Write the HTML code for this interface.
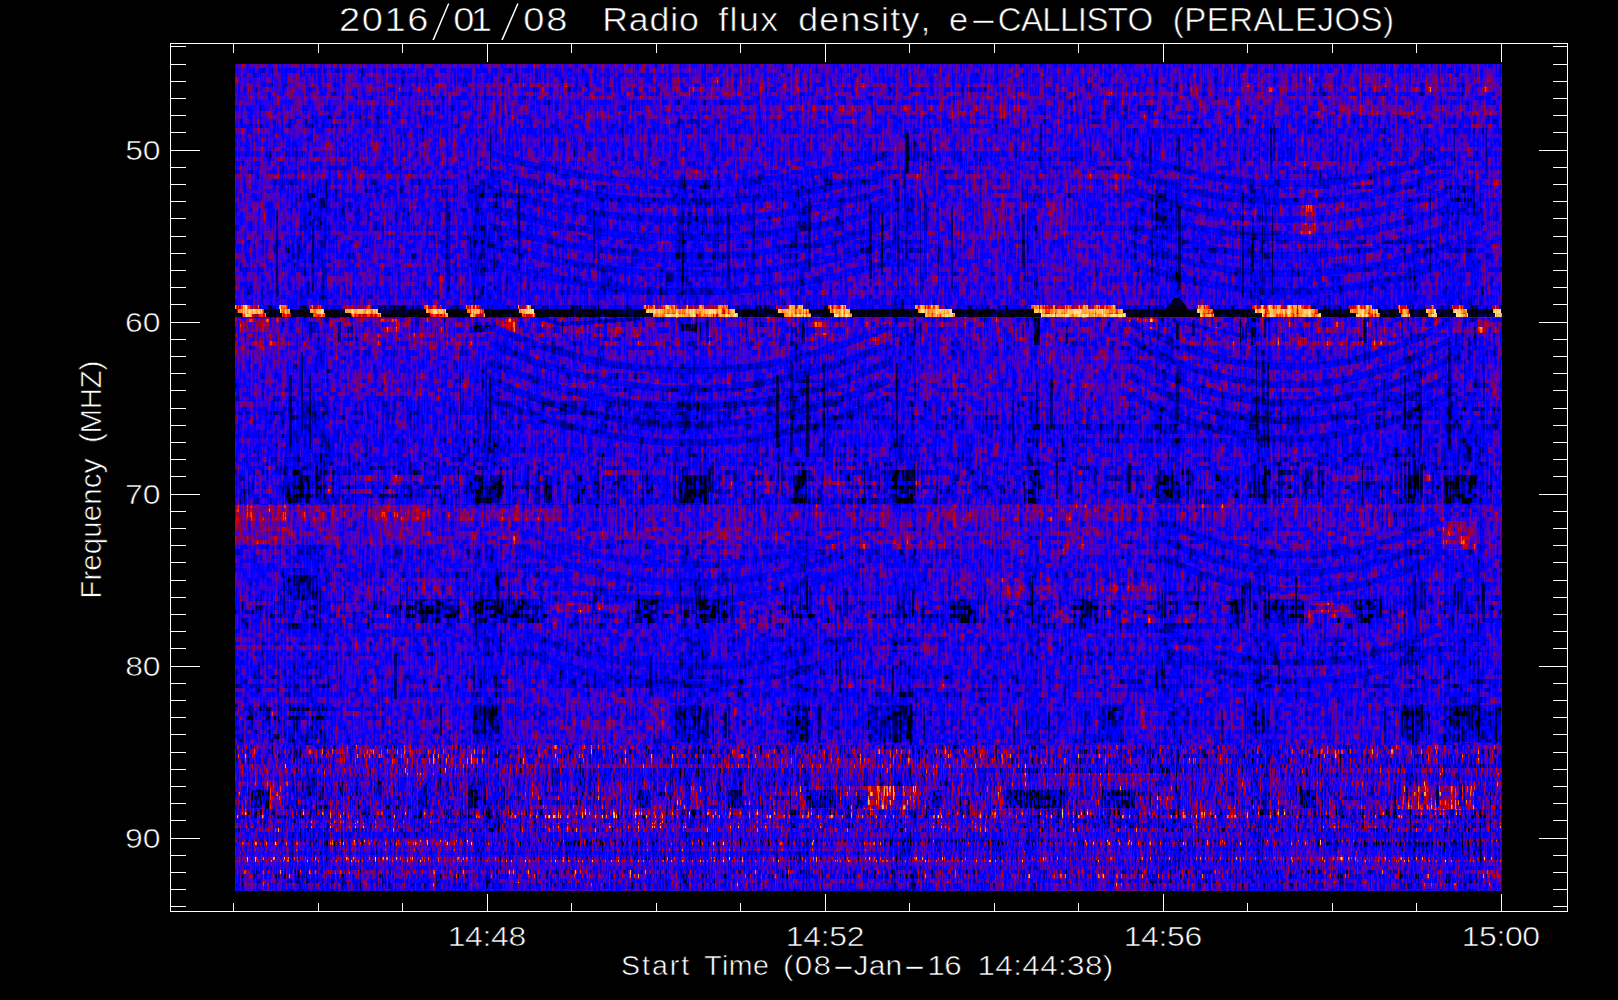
<!DOCTYPE html><html><head><meta charset="utf-8"><style>
html,body{margin:0;padding:0;background:#000;width:1618px;height:1000px;overflow:hidden}
svg{position:absolute;left:0;top:0;display:block}
text{font-family:"Liberation Sans",sans-serif;fill:#fff;font-kerning:none;white-space:pre}
</style></head><body>
<svg width="1618" height="1000" viewBox="0 0 1618 1000" shape-rendering="crispEdges">
<rect x="0" y="0" width="1618" height="1000" fill="#000"/>
<filter id="spf" filterUnits="userSpaceOnUse" primitiveUnits="userSpaceOnUse" x="235" y="64" width="1267" height="681" color-interpolation-filters="sRGB"><feFlood flood-color="rgb(128,128,0)" x="235" y="64" width="4" height="1" result="d0"/><feFlood flood-color="rgb(128,112,0)" x="235" y="65" width="4" height="1" result="d1"/><feFlood flood-color="rgb(128,96,0)" x="235" y="66" width="4" height="1" result="d2"/><feFlood flood-color="rgb(128,80,0)" x="235" y="67" width="4" height="1" result="d3"/><feFlood flood-color="rgb(128,128,0)" x="235" y="68" width="4" height="1" result="d4"/><feFlood flood-color="rgb(128,112,0)" x="235" y="69" width="4" height="1" result="d5"/><feFlood flood-color="rgb(128,96,0)" x="235" y="70" width="4" height="1" result="d6"/><feFlood flood-color="rgb(128,80,0)" x="235" y="71" width="4" height="1" result="d7"/><feFlood flood-color="rgb(128,64,0)" x="235" y="72" width="4" height="1" result="d8"/><feFlood flood-color="rgb(128,128,0)" x="235" y="73" width="4" height="1" result="d9"/><feFlood flood-color="rgb(128,112,0)" x="235" y="74" width="4" height="1" result="d10"/><feFlood flood-color="rgb(128,96,0)" x="235" y="75" width="4" height="1" result="d11"/><feFlood flood-color="rgb(128,80,0)" x="235" y="76" width="4" height="1" result="d12"/><feFlood flood-color="rgb(128,128,0)" x="235" y="77" width="4" height="1" result="d13"/><feFlood flood-color="rgb(128,112,0)" x="235" y="78" width="4" height="1" result="d14"/><feFlood flood-color="rgb(128,96,0)" x="235" y="79" width="4" height="1" result="d15"/><feFlood flood-color="rgb(128,80,0)" x="235" y="80" width="4" height="1" result="d16"/><feFlood flood-color="rgb(128,64,0)" x="235" y="81" width="4" height="1" result="d17"/><feFlood flood-color="rgb(128,48,0)" x="235" y="82" width="4" height="1" result="d18"/><feFlood flood-color="rgb(128,128,0)" x="235" y="83" width="4" height="1" result="d19"/><feFlood flood-color="rgb(128,112,0)" x="235" y="84" width="4" height="1" result="d20"/><feFlood flood-color="rgb(128,96,0)" x="235" y="85" width="4" height="1" result="d21"/><feFlood flood-color="rgb(128,80,0)" x="235" y="86" width="4" height="1" result="d22"/><feFlood flood-color="rgb(128,128,0)" x="235" y="87" width="4" height="1" result="d23"/><feFlood flood-color="rgb(128,112,0)" x="235" y="88" width="4" height="1" result="d24"/><feFlood flood-color="rgb(128,96,0)" x="235" y="89" width="4" height="1" result="d25"/><feFlood flood-color="rgb(128,80,0)" x="235" y="90" width="4" height="1" result="d26"/><feFlood flood-color="rgb(128,64,0)" x="235" y="91" width="4" height="1" result="d27"/><feFlood flood-color="rgb(128,128,0)" x="235" y="92" width="4" height="1" result="d28"/><feFlood flood-color="rgb(128,112,0)" x="235" y="93" width="4" height="1" result="d29"/><feFlood flood-color="rgb(128,96,0)" x="235" y="94" width="4" height="1" result="d30"/><feFlood flood-color="rgb(128,80,0)" x="235" y="95" width="4" height="1" result="d31"/><feFlood flood-color="rgb(128,128,0)" x="235" y="96" width="4" height="1" result="d32"/><feFlood flood-color="rgb(128,112,0)" x="235" y="97" width="4" height="1" result="d33"/><feFlood flood-color="rgb(128,96,0)" x="235" y="98" width="4" height="1" result="d34"/><feFlood flood-color="rgb(128,80,0)" x="235" y="99" width="4" height="1" result="d35"/><feFlood flood-color="rgb(128,128,0)" x="235" y="100" width="4" height="1" result="d36"/><feFlood flood-color="rgb(128,112,0)" x="235" y="101" width="4" height="1" result="d37"/><feFlood flood-color="rgb(128,96,0)" x="235" y="102" width="4" height="1" result="d38"/><feFlood flood-color="rgb(128,80,0)" x="235" y="103" width="4" height="1" result="d39"/><feFlood flood-color="rgb(128,64,0)" x="235" y="104" width="4" height="1" result="d40"/><feFlood flood-color="rgb(128,128,0)" x="235" y="105" width="4" height="1" result="d41"/><feFlood flood-color="rgb(128,112,0)" x="235" y="106" width="4" height="1" result="d42"/><feFlood flood-color="rgb(128,96,0)" x="235" y="107" width="4" height="1" result="d43"/><feFlood flood-color="rgb(128,80,0)" x="235" y="108" width="4" height="1" result="d44"/><feFlood flood-color="rgb(128,64,0)" x="235" y="109" width="4" height="1" result="d45"/><feFlood flood-color="rgb(128,48,0)" x="235" y="110" width="4" height="1" result="d46"/><feFlood flood-color="rgb(128,128,0)" x="235" y="111" width="4" height="1" result="d47"/><feFlood flood-color="rgb(128,112,0)" x="235" y="112" width="4" height="1" result="d48"/><feFlood flood-color="rgb(128,96,0)" x="235" y="113" width="4" height="1" result="d49"/><feFlood flood-color="rgb(128,80,0)" x="235" y="114" width="4" height="1" result="d50"/><feFlood flood-color="rgb(128,128,0)" x="235" y="115" width="4" height="1" result="d51"/><feFlood flood-color="rgb(128,112,0)" x="235" y="116" width="4" height="1" result="d52"/><feFlood flood-color="rgb(128,96,0)" x="235" y="117" width="4" height="1" result="d53"/><feFlood flood-color="rgb(128,80,0)" x="235" y="118" width="4" height="1" result="d54"/><feFlood flood-color="rgb(128,128,0)" x="235" y="119" width="4" height="1" result="d55"/><feFlood flood-color="rgb(128,112,0)" x="235" y="120" width="4" height="1" result="d56"/><feFlood flood-color="rgb(128,96,0)" x="235" y="121" width="4" height="1" result="d57"/><feFlood flood-color="rgb(128,80,0)" x="235" y="122" width="4" height="1" result="d58"/><feFlood flood-color="rgb(128,64,0)" x="235" y="123" width="4" height="1" result="d59"/><feFlood flood-color="rgb(128,128,0)" x="235" y="124" width="4" height="1" result="d60"/><feFlood flood-color="rgb(128,112,0)" x="235" y="125" width="4" height="1" result="d61"/><feFlood flood-color="rgb(128,96,0)" x="235" y="126" width="4" height="1" result="d62"/><feFlood flood-color="rgb(128,80,0)" x="235" y="127" width="4" height="1" result="d63"/><feFlood flood-color="rgb(128,128,0)" x="235" y="128" width="4" height="1" result="d64"/><feFlood flood-color="rgb(128,112,0)" x="235" y="129" width="4" height="1" result="d65"/><feFlood flood-color="rgb(128,96,0)" x="235" y="130" width="4" height="1" result="d66"/><feFlood flood-color="rgb(128,80,0)" x="235" y="131" width="4" height="1" result="d67"/><feFlood flood-color="rgb(128,64,0)" x="235" y="132" width="4" height="1" result="d68"/><feFlood flood-color="rgb(128,48,0)" x="235" y="133" width="4" height="1" result="d69"/><feFlood flood-color="rgb(128,128,0)" x="235" y="134" width="4" height="1" result="d70"/><feFlood flood-color="rgb(128,112,0)" x="235" y="135" width="4" height="1" result="d71"/><feFlood flood-color="rgb(128,96,0)" x="235" y="136" width="4" height="1" result="d72"/><feFlood flood-color="rgb(128,80,0)" x="235" y="137" width="4" height="1" result="d73"/><feMerge x="235" y="64" width="4" height="74" result="tile"><feMergeNode in="d0"/><feMergeNode in="d1"/><feMergeNode in="d2"/><feMergeNode in="d3"/><feMergeNode in="d4"/><feMergeNode in="d5"/><feMergeNode in="d6"/><feMergeNode in="d7"/><feMergeNode in="d8"/><feMergeNode in="d9"/><feMergeNode in="d10"/><feMergeNode in="d11"/><feMergeNode in="d12"/><feMergeNode in="d13"/><feMergeNode in="d14"/><feMergeNode in="d15"/><feMergeNode in="d16"/><feMergeNode in="d17"/><feMergeNode in="d18"/><feMergeNode in="d19"/><feMergeNode in="d20"/><feMergeNode in="d21"/><feMergeNode in="d22"/><feMergeNode in="d23"/><feMergeNode in="d24"/><feMergeNode in="d25"/><feMergeNode in="d26"/><feMergeNode in="d27"/><feMergeNode in="d28"/><feMergeNode in="d29"/><feMergeNode in="d30"/><feMergeNode in="d31"/><feMergeNode in="d32"/><feMergeNode in="d33"/><feMergeNode in="d34"/><feMergeNode in="d35"/><feMergeNode in="d36"/><feMergeNode in="d37"/><feMergeNode in="d38"/><feMergeNode in="d39"/><feMergeNode in="d40"/><feMergeNode in="d41"/><feMergeNode in="d42"/><feMergeNode in="d43"/><feMergeNode in="d44"/><feMergeNode in="d45"/><feMergeNode in="d46"/><feMergeNode in="d47"/><feMergeNode in="d48"/><feMergeNode in="d49"/><feMergeNode in="d50"/><feMergeNode in="d51"/><feMergeNode in="d52"/><feMergeNode in="d53"/><feMergeNode in="d54"/><feMergeNode in="d55"/><feMergeNode in="d56"/><feMergeNode in="d57"/><feMergeNode in="d58"/><feMergeNode in="d59"/><feMergeNode in="d60"/><feMergeNode in="d61"/><feMergeNode in="d62"/><feMergeNode in="d63"/><feMergeNode in="d64"/><feMergeNode in="d65"/><feMergeNode in="d66"/><feMergeNode in="d67"/><feMergeNode in="d68"/><feMergeNode in="d69"/><feMergeNode in="d70"/><feMergeNode in="d71"/><feMergeNode in="d72"/><feMergeNode in="d73"/></feMerge><feTile in="tile" x="235" y="64" width="1267" height="681" result="dmap"/><feTurbulence type="fractalNoise" baseFrequency="0.15 0.23" numOctaves="2" seed="7" result="t1"/><feColorMatrix in="t1" type="matrix" values="1 0 0 0 0 1 0 0 0 0 1 0 0 0 0 0 0 0 0 1" result="t1g"/><feDisplacementMap in="t1g" in2="dmap" scale="16" xChannelSelector="R" yChannelSelector="G" result="nr"/><feTurbulence type="fractalNoise" baseFrequency="0.45 0.03" numOctaves="2" seed="11" result="t2"/><feColorMatrix in="t2" type="matrix" values="1 0 0 0 0 1 0 0 0 0 1 0 0 0 0 0 0 0 0 1" result="ns"/><feTurbulence type="fractalNoise" baseFrequency="0.004 0.3" numOctaves="1" seed="5" result="t3"/><feColorMatrix in="t3" type="matrix" values="1 0 0 0 0 1 0 0 0 0 1 0 0 0 0 0 0 0 0 1" result="t3g"/><feDisplacementMap in="t3g" in2="dmap" scale="16" xChannelSelector="R" yChannelSelector="G" result="nc"/><feComposite in="nr" in2="ns" operator="arithmetic" k1="0" k2="0.7" k3="0.65" k4="-0.1750" result="N1"/><feComposite in="N1" in2="nc" operator="arithmetic" k1="0" k2="1" k3="0.35" k4="-0.1750" result="N"/><feColorMatrix in="SourceGraphic" type="matrix" values="0.5 -0.5 0 0 0.5 0.5 -0.5 0 0 0.5 0.5 -0.5 0 0 0.5 0 0 0 0 1" result="Sw"/><feColorMatrix in="SourceGraphic" type="matrix" values="0 1 0 0 0 0 1 0 0 0 0 1 0 0 0 0 0 0 0 1" result="Av"/><feComposite in="Av" in2="N" operator="arithmetic" k1="1" k2="0" k3="0" k4="0" result="u"/><feComposite in="Sw" in2="u" operator="arithmetic" k1="0" k2="2" k3="2" k4="-1" result="v"/><feComponentTransfer in="v"><feFuncR type="discrete" tableValues="0 0 0 0 0 0 0 0 0 0 0 0 0 0 0 0 0 0 0 0 0 0 0 0 0 0 0 0 0 0 0 0 0 0.176 0.176 0.176 0.176 0.176 0.176 0.176 0.314 0.314 0.314 0.314 0.314 0.314 0.431 0.431 0.431 0.431 0.431 0.431 0.549 0.549 0.549 0.549 0.549 0.686 0.686 0.686 0.686 0.686 0.863 0.863 0.863 0.863 0.863 0.863 1 1 1 1 1 1 1 1 1 1 1 1 1 1 1 1 1 1 1 1 1 1 1 1 1 1 1 1 1 1 1 1"/><feFuncG type="discrete" tableValues="0 0 0 0 0 0 0 0 0 0 0 0 0 0 0 0 0 0 0 0 0 0 0 0 0 0 0 0 0 0 0 0 0 0 0 0 0 0 0 0 0 0 0 0 0 0 0 0 0 0 0 0 0 0 0 0 0 0 0 0 0 0 0 0 0 0 0 0 0.196 0.196 0.196 0.196 0.196 0.196 0.471 0.471 0.471 0.471 0.471 0.471 0.647 0.647 0.647 0.647 0.647 0.647 0.784 0.784 0.784 0.784 0.784 0.784 0.784 0.882 0.882 0.882 0.882 0.882 0.882 0.882"/><feFuncB type="discrete" tableValues="0 0 0 0 0.176 0.176 0.176 0.176 0.392 0.392 0.392 0.392 0.392 0.392 0.667 0.667 0.667 0.667 0.667 0.667 0.667 1 1 1 1 1 1 1 1 1 1 1 1 0.902 0.902 0.902 0.902 0.902 0.902 0.902 0.725 0.725 0.725 0.725 0.725 0.725 0.529 0.529 0.529 0.529 0.529 0.529 0.314 0.314 0.314 0.314 0.314 0.137 0.137 0.137 0.137 0.137 0 0 0 0 0 0 0 0 0 0 0 0 0.078 0.078 0.078 0.078 0.078 0.078 0.216 0.216 0.216 0.216 0.216 0.216 0.392 0.392 0.392 0.392 0.392 0.392 0.392 0.549 0.549 0.549 0.549 0.549 0.549 0.549"/><feFuncA type="linear" slope="0" intercept="1"/></feComponentTransfer></filter><g filter="url(#spf)" shape-rendering="crispEdges"><rect x="235" y="64" width="1267" height="681" fill="#536000"/><rect x="235" y="64" width="1267" height="21" fill="#606000"/><rect x="235" y="85" width="716" height="1" fill="#606000"/><rect x="951" y="85" width="83" height="1" fill="#686000"/><rect x="1034" y="85" width="146" height="1" fill="#606000"/><rect x="1180" y="85" width="104" height="1" fill="#686000"/><rect x="1284" y="85" width="42" height="1" fill="#606000"/><rect x="1326" y="85" width="83" height="1" fill="#686000"/><rect x="1409" y="85" width="93" height="1" fill="#606000"/><rect x="235" y="86" width="716" height="12" fill="#656c00"/><rect x="951" y="86" width="83" height="12" fill="#6d6c00"/><rect x="1034" y="86" width="146" height="12" fill="#656c00"/><rect x="1180" y="86" width="104" height="12" fill="#6d6c00"/><rect x="1284" y="86" width="42" height="12" fill="#656c00"/><rect x="1326" y="86" width="83" height="12" fill="#6d6c00"/><rect x="1409" y="86" width="93" height="12" fill="#656c00"/><rect x="235" y="98" width="716" height="6" fill="#5f6000"/><rect x="951" y="98" width="83" height="6" fill="#676000"/><rect x="1034" y="98" width="146" height="6" fill="#5f6000"/><rect x="1180" y="98" width="104" height="6" fill="#676000"/><rect x="1284" y="98" width="42" height="6" fill="#5f6000"/><rect x="1326" y="98" width="83" height="6" fill="#676000"/><rect x="1409" y="98" width="93" height="6" fill="#5f6000"/><rect x="235" y="104" width="716" height="13" fill="#636000"/><rect x="951" y="104" width="83" height="13" fill="#6b6000"/><rect x="1034" y="104" width="146" height="13" fill="#636000"/><rect x="1180" y="104" width="104" height="13" fill="#6b6000"/><rect x="1284" y="104" width="42" height="13" fill="#636000"/><rect x="1326" y="104" width="83" height="13" fill="#6b6000"/><rect x="1409" y="104" width="93" height="13" fill="#636000"/><rect x="235" y="117" width="716" height="1" fill="#5c6000"/><rect x="951" y="117" width="83" height="1" fill="#646000"/><rect x="1034" y="117" width="146" height="1" fill="#5c6000"/><rect x="1180" y="117" width="104" height="1" fill="#646000"/><rect x="1284" y="117" width="42" height="1" fill="#5c6000"/><rect x="1326" y="117" width="83" height="1" fill="#646000"/><rect x="1409" y="117" width="93" height="1" fill="#5c6000"/><rect x="235" y="118" width="1267" height="20" fill="#5c6000"/><rect x="235" y="138" width="1267" height="19" fill="#5d6000"/><rect x="235" y="157" width="1267" height="13" fill="#5c6000"/><rect x="235" y="170" width="1267" height="7" fill="#646000"/><rect x="235" y="177" width="1267" height="3" fill="#5b6000"/><rect x="235" y="180" width="53" height="2" fill="#5b6000"/><rect x="288" y="180" width="42" height="2" fill="#4c6000"/><rect x="330" y="180" width="143" height="2" fill="#5b6000"/><rect x="473" y="180" width="29" height="2" fill="#4c6000"/><rect x="502" y="180" width="177" height="2" fill="#5b6000"/><rect x="679" y="180" width="28" height="2" fill="#4c6000"/><rect x="707" y="180" width="83" height="2" fill="#5b6000"/><rect x="790" y="180" width="20" height="2" fill="#4c6000"/><rect x="810" y="180" width="82" height="2" fill="#5b6000"/><rect x="892" y="180" width="24" height="2" fill="#4c6000"/><rect x="916" y="180" width="68" height="2" fill="#5b6000"/><rect x="984" y="180" width="21" height="2" fill="#6a6000"/><rect x="1005" y="180" width="23" height="2" fill="#5b6000"/><rect x="1028" y="180" width="12" height="2" fill="#4c6000"/><rect x="1040" y="180" width="3" height="2" fill="#5b6000"/><rect x="1043" y="180" width="25" height="2" fill="#6a6000"/><rect x="1068" y="180" width="88" height="2" fill="#5b6000"/><rect x="1156" y="180" width="24" height="2" fill="#4c6000"/><rect x="1180" y="180" width="70" height="2" fill="#5b6000"/><rect x="1250" y="180" width="20" height="2" fill="#4c6000"/><rect x="1270" y="180" width="30" height="2" fill="#5b6000"/><rect x="1300" y="180" width="17" height="2" fill="#6a6000"/><rect x="1317" y="180" width="87" height="2" fill="#5b6000"/><rect x="1404" y="180" width="16" height="2" fill="#4c6000"/><rect x="1420" y="180" width="24" height="2" fill="#5b6000"/><rect x="1444" y="180" width="40" height="2" fill="#4c6000"/><rect x="1484" y="180" width="18" height="2" fill="#5b6000"/><rect x="288" y="182" width="42" height="3" fill="#4a6000"/><rect x="330" y="182" width="143" height="3" fill="#5a6000"/><rect x="473" y="182" width="29" height="3" fill="#4a6000"/><rect x="502" y="182" width="177" height="3" fill="#5a6000"/><rect x="679" y="182" width="28" height="3" fill="#4a6000"/><rect x="1180" y="182" width="70" height="3" fill="#606000"/><rect x="1250" y="182" width="20" height="3" fill="#516000"/><rect x="1444" y="182" width="40" height="3" fill="#516000"/><rect x="235" y="182" width="53" height="8" fill="#5a6000"/><rect x="288" y="185" width="33" height="5" fill="#4a6000"/><rect x="1068" y="182" width="88" height="8" fill="#606000"/><rect x="1156" y="182" width="24" height="8" fill="#516000"/><rect x="1300" y="182" width="17" height="23" fill="#6f6000"/><rect x="1180" y="185" width="68" height="25" fill="#606000"/><rect x="1248" y="185" width="2" height="25" fill="#4e6000"/><rect x="1250" y="185" width="3" height="25" fill="#3f6000"/><rect x="1253" y="185" width="17" height="25" fill="#516000"/><rect x="1444" y="185" width="6" height="30" fill="#516000"/><rect x="1450" y="185" width="25" height="30" fill="#3c6000"/><rect x="1475" y="185" width="9" height="30" fill="#516000"/><rect x="1180" y="210" width="62" height="16" fill="#606000"/><rect x="1242" y="210" width="6" height="16" fill="#7f6000"/><rect x="1248" y="210" width="2" height="16" fill="#6d6000"/><rect x="1250" y="210" width="3" height="16" fill="#5e6000"/><rect x="1253" y="210" width="5" height="16" fill="#6f6000"/><rect x="1258" y="210" width="12" height="16" fill="#516000"/><rect x="1068" y="190" width="87" height="40" fill="#606000"/><rect x="1155" y="190" width="1" height="40" fill="#4c6000"/><rect x="1156" y="190" width="12" height="40" fill="#3c6000"/><rect x="1168" y="190" width="12" height="40" fill="#516000"/><rect x="1300" y="205" width="1" height="31" fill="#6f6000"/><rect x="1301" y="205" width="15" height="31" fill="#936000"/><rect x="1316" y="205" width="1" height="31" fill="#6f6000"/><rect x="235" y="190" width="53" height="48" fill="#646000"/><rect x="288" y="190" width="12" height="48" fill="#556000"/><rect x="300" y="190" width="21" height="48" fill="#4a6000"/><rect x="321" y="185" width="6" height="53" fill="#396000"/><rect x="327" y="185" width="3" height="53" fill="#4a6000"/><rect x="330" y="185" width="138" height="53" fill="#5a6000"/><rect x="468" y="185" width="5" height="53" fill="#486000"/><rect x="473" y="185" width="12" height="53" fill="#396000"/><rect x="485" y="185" width="17" height="53" fill="#4a6000"/><rect x="502" y="185" width="95" height="53" fill="#5a6000"/><rect x="597" y="185" width="8" height="53" fill="#486000"/><rect x="605" y="185" width="71" height="53" fill="#5a6000"/><rect x="676" y="185" width="3" height="53" fill="#486000"/><rect x="679" y="185" width="5" height="53" fill="#396000"/><rect x="684" y="185" width="23" height="53" fill="#4a6000"/><rect x="707" y="182" width="83" height="56" fill="#5a6000"/><rect x="790" y="182" width="20" height="56" fill="#4a6000"/><rect x="810" y="182" width="58" height="56" fill="#5a6000"/><rect x="868" y="182" width="24" height="56" fill="#606000"/><rect x="892" y="182" width="24" height="56" fill="#516000"/><rect x="916" y="182" width="68" height="56" fill="#606000"/><rect x="984" y="182" width="21" height="56" fill="#6f6000"/><rect x="1005" y="182" width="23" height="56" fill="#606000"/><rect x="1028" y="182" width="12" height="56" fill="#516000"/><rect x="1040" y="182" width="3" height="56" fill="#606000"/><rect x="1043" y="182" width="25" height="56" fill="#6f6000"/><rect x="1068" y="230" width="88" height="8" fill="#606000"/><rect x="1156" y="230" width="24" height="8" fill="#516000"/><rect x="1180" y="226" width="68" height="12" fill="#606000"/><rect x="1248" y="226" width="2" height="12" fill="#4e6000"/><rect x="1250" y="226" width="3" height="12" fill="#3f6000"/><rect x="1253" y="226" width="17" height="12" fill="#516000"/><rect x="1270" y="182" width="30" height="56" fill="#606000"/><rect x="1300" y="236" width="17" height="2" fill="#6f6000"/><rect x="1317" y="182" width="87" height="56" fill="#606000"/><rect x="1404" y="182" width="16" height="56" fill="#516000"/><rect x="1420" y="182" width="24" height="56" fill="#606000"/><rect x="1444" y="215" width="40" height="23" fill="#516000"/><rect x="1484" y="182" width="18" height="56" fill="#606000"/><rect x="235" y="238" width="53" height="2" fill="#676000"/><rect x="288" y="238" width="12" height="2" fill="#576000"/><rect x="300" y="238" width="21" height="2" fill="#4d6000"/><rect x="916" y="238" width="68" height="2" fill="#5c6000"/><rect x="984" y="238" width="21" height="2" fill="#6c6000"/><rect x="1005" y="238" width="23" height="2" fill="#5c6000"/><rect x="1040" y="238" width="3" height="2" fill="#5c6000"/><rect x="1043" y="238" width="25" height="2" fill="#6c6000"/><rect x="1068" y="238" width="88" height="2" fill="#5c6000"/><rect x="1270" y="238" width="30" height="2" fill="#5c6000"/><rect x="1300" y="238" width="17" height="2" fill="#6c6000"/><rect x="1317" y="238" width="87" height="2" fill="#5c6000"/><rect x="235" y="240" width="53" height="10" fill="#5c6000"/><rect x="288" y="240" width="33" height="10" fill="#4d6000"/><rect x="321" y="238" width="6" height="12" fill="#3b6000"/><rect x="327" y="238" width="3" height="12" fill="#4d6000"/><rect x="330" y="238" width="138" height="12" fill="#5c6000"/><rect x="468" y="238" width="5" height="12" fill="#4a6000"/><rect x="473" y="238" width="12" height="12" fill="#3b6000"/><rect x="485" y="238" width="17" height="12" fill="#4d6000"/><rect x="502" y="238" width="95" height="12" fill="#5c6000"/><rect x="597" y="238" width="8" height="12" fill="#4a6000"/><rect x="605" y="238" width="71" height="12" fill="#5c6000"/><rect x="676" y="238" width="3" height="12" fill="#4a6000"/><rect x="679" y="238" width="5" height="12" fill="#3b6000"/><rect x="684" y="238" width="23" height="12" fill="#4d6000"/><rect x="707" y="238" width="83" height="12" fill="#5c6000"/><rect x="790" y="238" width="20" height="12" fill="#4d6000"/><rect x="810" y="238" width="82" height="12" fill="#5c6000"/><rect x="892" y="238" width="24" height="12" fill="#4d6000"/><rect x="916" y="240" width="112" height="10" fill="#5c6000"/><rect x="1028" y="238" width="12" height="12" fill="#4d6000"/><rect x="1040" y="240" width="116" height="10" fill="#5c6000"/><rect x="1156" y="238" width="24" height="12" fill="#4d6000"/><rect x="1180" y="238" width="68" height="12" fill="#5c6000"/><rect x="1248" y="238" width="2" height="12" fill="#4a6000"/><rect x="1250" y="238" width="3" height="12" fill="#3b6000"/><rect x="1253" y="238" width="17" height="12" fill="#4d6000"/><rect x="1270" y="240" width="134" height="10" fill="#5c6000"/><rect x="1404" y="238" width="16" height="12" fill="#4d6000"/><rect x="1420" y="238" width="24" height="12" fill="#5c6000"/><rect x="1444" y="238" width="40" height="12" fill="#4d6000"/><rect x="1484" y="238" width="18" height="12" fill="#5c6000"/><rect x="235" y="250" width="53" height="31" fill="#5f6000"/><rect x="288" y="250" width="33" height="31" fill="#506000"/><rect x="321" y="250" width="6" height="31" fill="#3e6000"/><rect x="327" y="250" width="3" height="31" fill="#506000"/><rect x="330" y="250" width="138" height="31" fill="#5f6000"/><rect x="468" y="250" width="5" height="31" fill="#4d6000"/><rect x="473" y="250" width="12" height="31" fill="#3e6000"/><rect x="485" y="250" width="17" height="31" fill="#506000"/><rect x="502" y="250" width="95" height="31" fill="#5f6000"/><rect x="597" y="250" width="8" height="31" fill="#4d6000"/><rect x="605" y="250" width="71" height="31" fill="#5f6000"/><rect x="676" y="250" width="3" height="31" fill="#4d6000"/><rect x="679" y="250" width="5" height="31" fill="#3e6000"/><rect x="684" y="250" width="23" height="31" fill="#506000"/><rect x="707" y="250" width="83" height="31" fill="#5f6000"/><rect x="790" y="250" width="20" height="31" fill="#506000"/><rect x="810" y="250" width="82" height="31" fill="#5f6000"/><rect x="892" y="250" width="24" height="31" fill="#506000"/><rect x="916" y="250" width="112" height="31" fill="#5f6000"/><rect x="1028" y="250" width="12" height="31" fill="#506000"/><rect x="1040" y="250" width="116" height="31" fill="#5f6000"/><rect x="1156" y="250" width="24" height="31" fill="#506000"/><rect x="1180" y="250" width="68" height="31" fill="#5f6000"/><rect x="1248" y="250" width="2" height="31" fill="#4d6000"/><rect x="1250" y="250" width="3" height="31" fill="#3e6000"/><rect x="1253" y="250" width="17" height="31" fill="#506000"/><rect x="1270" y="250" width="134" height="31" fill="#5f6000"/><rect x="1404" y="250" width="16" height="31" fill="#506000"/><rect x="1420" y="250" width="24" height="31" fill="#5f6000"/><rect x="1444" y="250" width="40" height="31" fill="#506000"/><rect x="1484" y="250" width="18" height="31" fill="#5f6000"/><rect x="235" y="281" width="53" height="19" fill="#5b6000"/><rect x="288" y="281" width="33" height="19" fill="#4c6000"/><rect x="321" y="281" width="6" height="19" fill="#3a6000"/><rect x="327" y="281" width="3" height="19" fill="#4c6000"/><rect x="330" y="281" width="138" height="19" fill="#5b6000"/><rect x="468" y="281" width="5" height="19" fill="#496000"/><rect x="473" y="281" width="12" height="19" fill="#3a6000"/><rect x="485" y="281" width="17" height="19" fill="#4c6000"/><rect x="502" y="281" width="95" height="19" fill="#5b6000"/><rect x="597" y="281" width="8" height="19" fill="#496000"/><rect x="605" y="281" width="71" height="19" fill="#5b6000"/><rect x="676" y="281" width="3" height="19" fill="#496000"/><rect x="679" y="281" width="5" height="19" fill="#3a6000"/><rect x="684" y="281" width="23" height="19" fill="#4c6000"/><rect x="707" y="281" width="83" height="19" fill="#5b6000"/><rect x="790" y="281" width="20" height="19" fill="#4c6000"/><rect x="810" y="281" width="82" height="19" fill="#5b6000"/><rect x="892" y="281" width="24" height="19" fill="#4c6000"/><rect x="916" y="281" width="112" height="19" fill="#5b6000"/><rect x="1028" y="281" width="12" height="19" fill="#4c6000"/><rect x="1040" y="281" width="116" height="19" fill="#5b6000"/><rect x="1156" y="281" width="24" height="19" fill="#4c6000"/><rect x="1180" y="281" width="68" height="19" fill="#5b6000"/><rect x="1248" y="281" width="2" height="19" fill="#496000"/><rect x="1250" y="281" width="3" height="19" fill="#3a6000"/><rect x="1253" y="281" width="17" height="19" fill="#4c6000"/><rect x="1270" y="281" width="134" height="19" fill="#5b6000"/><rect x="1404" y="281" width="16" height="19" fill="#4c6000"/><rect x="1420" y="281" width="24" height="19" fill="#5b6000"/><rect x="1444" y="281" width="40" height="19" fill="#4c6000"/><rect x="1484" y="281" width="18" height="19" fill="#5b6000"/><rect x="235" y="300" width="53" height="5" fill="#5a6000"/><rect x="288" y="300" width="42" height="5" fill="#4a6000"/><rect x="330" y="300" width="143" height="5" fill="#5a6000"/><rect x="473" y="300" width="29" height="5" fill="#4a6000"/><rect x="502" y="300" width="177" height="5" fill="#5a6000"/><rect x="679" y="300" width="28" height="5" fill="#4a6000"/><rect x="707" y="300" width="83" height="5" fill="#5a6000"/><rect x="790" y="300" width="20" height="5" fill="#4a6000"/><rect x="810" y="300" width="82" height="5" fill="#5a6000"/><rect x="892" y="300" width="24" height="5" fill="#4a6000"/><rect x="916" y="300" width="112" height="5" fill="#5a6000"/><rect x="1028" y="300" width="12" height="5" fill="#4a6000"/><rect x="1040" y="300" width="116" height="5" fill="#5a6000"/><rect x="1156" y="300" width="24" height="5" fill="#4a6000"/><rect x="1180" y="300" width="70" height="5" fill="#5a6000"/><rect x="1250" y="300" width="20" height="5" fill="#4a6000"/><rect x="1270" y="300" width="134" height="5" fill="#5a6000"/><rect x="1404" y="300" width="16" height="5" fill="#4a6000"/><rect x="1420" y="300" width="24" height="5" fill="#5a6000"/><rect x="1444" y="300" width="40" height="5" fill="#4a6000"/><rect x="1484" y="300" width="18" height="5" fill="#5a6000"/><rect x="235" y="305" width="24" height="4" fill="#a88000"/><rect x="259" y="305" width="20" height="4" fill="#386600"/><rect x="279" y="305" width="9" height="4" fill="#a88000"/><rect x="288" y="305" width="21" height="4" fill="#386600"/><rect x="309" y="305" width="12" height="4" fill="#a88000"/><rect x="321" y="305" width="21" height="4" fill="#386600"/><rect x="342" y="305" width="30" height="4" fill="#a88000"/><rect x="372" y="305" width="52" height="4" fill="#386600"/><rect x="424" y="305" width="18" height="4" fill="#a88000"/><rect x="442" y="305" width="24" height="4" fill="#386600"/><rect x="466" y="305" width="15" height="4" fill="#a88000"/><rect x="481" y="305" width="37" height="4" fill="#386600"/><rect x="518" y="305" width="13" height="4" fill="#a88000"/><rect x="531" y="305" width="112" height="4" fill="#386600"/><rect x="643" y="305" width="85" height="4" fill="#a88000"/><rect x="728" y="305" width="48" height="4" fill="#386600"/><rect x="776" y="305" width="27" height="4" fill="#a88000"/><rect x="803" y="305" width="25" height="4" fill="#386600"/><rect x="828" y="305" width="18" height="4" fill="#a88000"/><rect x="846" y="305" width="69" height="4" fill="#386600"/><rect x="915" y="305" width="30" height="4" fill="#a88000"/><rect x="945" y="305" width="86" height="4" fill="#386600"/><rect x="1031" y="305" width="85" height="4" fill="#a88000"/><rect x="1116" y="305" width="80" height="4" fill="#386600"/><rect x="1196" y="305" width="14" height="4" fill="#a88000"/><rect x="1210" y="305" width="42" height="4" fill="#386600"/><rect x="1252" y="305" width="59" height="4" fill="#a88000"/><rect x="1311" y="305" width="37" height="4" fill="#386600"/><rect x="1348" y="305" width="24" height="4" fill="#a88000"/><rect x="1372" y="305" width="26" height="4" fill="#386600"/><rect x="1398" y="305" width="9" height="4" fill="#a88000"/><rect x="1407" y="305" width="18" height="4" fill="#386600"/><rect x="1425" y="305" width="9" height="4" fill="#a88000"/><rect x="1434" y="305" width="18" height="4" fill="#386600"/><rect x="1452" y="305" width="12" height="4" fill="#a88000"/><rect x="1464" y="305" width="28" height="4" fill="#386600"/><rect x="1492" y="305" width="7" height="4" fill="#a88000"/><rect x="1499" y="305" width="3" height="4" fill="#386600"/><rect x="235" y="309" width="2" height="4" fill="#082600"/><rect x="237" y="309" width="27" height="4" fill="#d94c00"/><rect x="264" y="309" width="16" height="4" fill="#082600"/><rect x="280" y="309" width="10" height="4" fill="#d94c00"/><rect x="290" y="309" width="20" height="4" fill="#082600"/><rect x="310" y="309" width="14" height="4" fill="#d94c00"/><rect x="324" y="309" width="21" height="4" fill="#082600"/><rect x="345" y="309" width="33" height="4" fill="#d94c00"/><rect x="378" y="309" width="48" height="4" fill="#082600"/><rect x="426" y="309" width="20" height="4" fill="#d94c00"/><rect x="446" y="309" width="21" height="4" fill="#082600"/><rect x="467" y="309" width="17" height="4" fill="#d94c00"/><rect x="484" y="309" width="35" height="4" fill="#082600"/><rect x="519" y="309" width="15" height="4" fill="#d94c00"/><rect x="534" y="309" width="112" height="4" fill="#082600"/><rect x="646" y="309" width="89" height="4" fill="#d94c00"/><rect x="735" y="309" width="43" height="4" fill="#082600"/><rect x="778" y="309" width="31" height="4" fill="#d94c00"/><rect x="809" y="309" width="21" height="4" fill="#082600"/><rect x="830" y="309" width="20" height="4" fill="#d94c00"/><rect x="850" y="309" width="68" height="4" fill="#082600"/><rect x="918" y="309" width="34" height="4" fill="#d94c00"/><rect x="952" y="309" width="82" height="4" fill="#082600"/><rect x="1034" y="309" width="89" height="4" fill="#d94c00"/><rect x="1123" y="309" width="74" height="4" fill="#082600"/><rect x="1197" y="309" width="16" height="4" fill="#d94c00"/><rect x="1213" y="309" width="42" height="4" fill="#082600"/><rect x="1255" y="309" width="63" height="4" fill="#d94c00"/><rect x="1318" y="309" width="32" height="4" fill="#082600"/><rect x="1350" y="309" width="28" height="4" fill="#d94c00"/><rect x="1378" y="309" width="21" height="4" fill="#082600"/><rect x="1399" y="309" width="10" height="4" fill="#d94c00"/><rect x="1409" y="309" width="17" height="4" fill="#082600"/><rect x="1426" y="309" width="10" height="4" fill="#d94c00"/><rect x="1436" y="309" width="17" height="4" fill="#082600"/><rect x="1453" y="309" width="14" height="4" fill="#d94c00"/><rect x="1467" y="309" width="26" height="4" fill="#082600"/><rect x="1493" y="309" width="8" height="4" fill="#d94c00"/><rect x="1501" y="309" width="1" height="4" fill="#082600"/><rect x="235" y="313" width="7" height="4" fill="#082600"/><rect x="242" y="313" width="24" height="4" fill="#cf5900"/><rect x="266" y="313" width="16" height="4" fill="#082600"/><rect x="282" y="313" width="9" height="4" fill="#cf5900"/><rect x="291" y="313" width="22" height="4" fill="#082600"/><rect x="313" y="313" width="12" height="4" fill="#cf5900"/><rect x="325" y="313" width="26" height="4" fill="#082600"/><rect x="351" y="313" width="30" height="4" fill="#cf5900"/><rect x="381" y="313" width="49" height="4" fill="#082600"/><rect x="430" y="313" width="18" height="4" fill="#cf5900"/><rect x="448" y="313" width="22" height="4" fill="#082600"/><rect x="470" y="313" width="15" height="4" fill="#cf5900"/><rect x="485" y="313" width="37" height="4" fill="#082600"/><rect x="522" y="313" width="13" height="4" fill="#cf5900"/><rect x="535" y="313" width="118" height="4" fill="#082600"/><rect x="653" y="313" width="85" height="4" fill="#cf5900"/><rect x="738" y="313" width="46" height="4" fill="#082600"/><rect x="784" y="313" width="27" height="4" fill="#cf5900"/><rect x="811" y="313" width="23" height="4" fill="#082600"/><rect x="834" y="313" width="18" height="4" fill="#cf5900"/><rect x="852" y="313" width="73" height="4" fill="#082600"/><rect x="925" y="313" width="30" height="4" fill="#cf5900"/><rect x="955" y="313" width="86" height="4" fill="#082600"/><rect x="1041" y="313" width="85" height="4" fill="#cf5900"/><rect x="1126" y="313" width="74" height="4" fill="#082600"/><rect x="1200" y="313" width="14" height="4" fill="#cf5900"/><rect x="1214" y="313" width="48" height="4" fill="#082600"/><rect x="1262" y="313" width="59" height="4" fill="#cf5900"/><rect x="1321" y="313" width="35" height="4" fill="#082600"/><rect x="1356" y="313" width="24" height="4" fill="#cf5900"/><rect x="1380" y="313" width="21" height="4" fill="#082600"/><rect x="1401" y="313" width="9" height="4" fill="#cf5900"/><rect x="1410" y="313" width="18" height="4" fill="#082600"/><rect x="1428" y="313" width="9" height="4" fill="#cf5900"/><rect x="1437" y="313" width="19" height="4" fill="#082600"/><rect x="1456" y="313" width="12" height="4" fill="#cf5900"/><rect x="1468" y="313" width="27" height="4" fill="#082600"/><rect x="1495" y="313" width="7" height="4" fill="#cf5900"/><rect x="1028" y="317" width="12" height="1" fill="#5a7300"/><rect x="1250" y="317" width="20" height="1" fill="#5a7300"/><rect x="235" y="317" width="53" height="2" fill="#697300"/><rect x="330" y="317" width="143" height="2" fill="#697300"/><rect x="473" y="317" width="29" height="2" fill="#5a7300"/><rect x="502" y="317" width="177" height="2" fill="#697300"/><rect x="1040" y="317" width="116" height="2" fill="#697300"/><rect x="1156" y="317" width="24" height="2" fill="#5a7300"/><rect x="810" y="317" width="82" height="3" fill="#697300"/><rect x="1444" y="317" width="40" height="3" fill="#5a7300"/><rect x="1484" y="317" width="18" height="3" fill="#697300"/><rect x="679" y="317" width="28" height="7" fill="#5a7300"/><rect x="473" y="319" width="23" height="6" fill="#5a7300"/><rect x="830" y="320" width="62" height="10" fill="#697300"/><rect x="892" y="317" width="24" height="13" fill="#5a7300"/><rect x="1040" y="319" width="102" height="11" fill="#697300"/><rect x="1142" y="319" width="14" height="11" fill="#887300"/><rect x="1156" y="319" width="2" height="11" fill="#787300"/><rect x="1158" y="319" width="22" height="11" fill="#5a7300"/><rect x="679" y="324" width="2" height="7" fill="#5a7300"/><rect x="681" y="324" width="16" height="7" fill="#1a7300"/><rect x="697" y="324" width="10" height="7" fill="#5a7300"/><rect x="235" y="319" width="5" height="13" fill="#697300"/><rect x="240" y="319" width="30" height="13" fill="#887300"/><rect x="270" y="319" width="18" height="13" fill="#697300"/><rect x="330" y="319" width="10" height="13" fill="#887300"/><rect x="340" y="319" width="40" height="13" fill="#697300"/><rect x="380" y="319" width="20" height="13" fill="#887300"/><rect x="400" y="319" width="73" height="13" fill="#697300"/><rect x="473" y="325" width="1" height="7" fill="#5a7300"/><rect x="474" y="325" width="18" height="7" fill="#1a7300"/><rect x="492" y="325" width="4" height="7" fill="#5a7300"/><rect x="496" y="319" width="6" height="13" fill="#787300"/><rect x="502" y="319" width="13" height="13" fill="#887300"/><rect x="515" y="319" width="164" height="13" fill="#697300"/><rect x="1444" y="320" width="31" height="13" fill="#5a7300"/><rect x="1475" y="320" width="9" height="13" fill="#787300"/><rect x="1484" y="320" width="6" height="13" fill="#887300"/><rect x="1490" y="320" width="12" height="13" fill="#697300"/><rect x="810" y="320" width="4" height="15" fill="#697300"/><rect x="814" y="320" width="16" height="15" fill="#887300"/><rect x="830" y="330" width="38" height="5" fill="#697300"/><rect x="235" y="332" width="53" height="13" fill="#697300"/><rect x="288" y="317" width="42" height="28" fill="#5a7300"/><rect x="330" y="332" width="143" height="13" fill="#697300"/><rect x="473" y="332" width="29" height="13" fill="#5a7300"/><rect x="502" y="332" width="177" height="13" fill="#697300"/><rect x="679" y="331" width="28" height="14" fill="#5a7300"/><rect x="707" y="317" width="83" height="28" fill="#697300"/><rect x="790" y="317" width="20" height="28" fill="#5a7300"/><rect x="810" y="335" width="58" height="10" fill="#697300"/><rect x="868" y="330" width="24" height="15" fill="#887300"/><rect x="892" y="330" width="1" height="15" fill="#787300"/><rect x="893" y="330" width="23" height="15" fill="#5a7300"/><rect x="916" y="317" width="112" height="28" fill="#697300"/><rect x="1028" y="318" width="6" height="27" fill="#5a7300"/><rect x="1034" y="318" width="6" height="27" fill="#1a7300"/><rect x="1040" y="330" width="116" height="15" fill="#697300"/><rect x="1156" y="330" width="24" height="15" fill="#5a7300"/><rect x="1180" y="317" width="70" height="28" fill="#697300"/><rect x="1250" y="318" width="1" height="27" fill="#5a7300"/><rect x="1251" y="318" width="5" height="27" fill="#1a7300"/><rect x="1256" y="318" width="14" height="27" fill="#5a7300"/><rect x="1270" y="317" width="134" height="28" fill="#697300"/><rect x="1404" y="317" width="16" height="28" fill="#5a7300"/><rect x="1420" y="317" width="24" height="28" fill="#697300"/><rect x="1444" y="333" width="40" height="12" fill="#5a7300"/><rect x="1484" y="333" width="18" height="12" fill="#697300"/><rect x="235" y="345" width="53" height="55" fill="#616000"/><rect x="288" y="345" width="42" height="55" fill="#526000"/><rect x="330" y="345" width="143" height="55" fill="#616000"/><rect x="473" y="345" width="29" height="55" fill="#526000"/><rect x="502" y="345" width="177" height="55" fill="#616000"/><rect x="679" y="345" width="28" height="55" fill="#526000"/><rect x="707" y="345" width="83" height="55" fill="#616000"/><rect x="790" y="345" width="20" height="55" fill="#526000"/><rect x="810" y="345" width="82" height="55" fill="#616000"/><rect x="892" y="345" width="24" height="55" fill="#526000"/><rect x="916" y="345" width="112" height="55" fill="#616000"/><rect x="1028" y="345" width="12" height="55" fill="#526000"/><rect x="1040" y="345" width="116" height="55" fill="#616000"/><rect x="1156" y="345" width="24" height="55" fill="#526000"/><rect x="1180" y="345" width="70" height="55" fill="#616000"/><rect x="1250" y="345" width="20" height="55" fill="#526000"/><rect x="1270" y="345" width="134" height="55" fill="#616000"/><rect x="1404" y="345" width="16" height="55" fill="#526000"/><rect x="1420" y="345" width="24" height="55" fill="#616000"/><rect x="1444" y="345" width="40" height="55" fill="#526000"/><rect x="1484" y="345" width="18" height="55" fill="#616000"/><rect x="288" y="400" width="42" height="60" fill="#446000"/><rect x="473" y="400" width="29" height="60" fill="#446000"/><rect x="679" y="400" width="28" height="60" fill="#446000"/><rect x="790" y="400" width="20" height="60" fill="#446000"/><rect x="892" y="400" width="24" height="60" fill="#446000"/><rect x="1028" y="400" width="12" height="60" fill="#446000"/><rect x="1156" y="400" width="24" height="60" fill="#446000"/><rect x="1250" y="400" width="20" height="60" fill="#446000"/><rect x="1404" y="400" width="16" height="60" fill="#446000"/><rect x="1444" y="400" width="40" height="60" fill="#446000"/><rect x="235" y="460" width="53" height="10" fill="#576c00"/><rect x="288" y="460" width="42" height="10" fill="#486c00"/><rect x="330" y="460" width="143" height="10" fill="#576c00"/><rect x="473" y="460" width="29" height="10" fill="#486c00"/><rect x="502" y="460" width="177" height="10" fill="#576c00"/><rect x="679" y="460" width="28" height="10" fill="#486c00"/><rect x="707" y="460" width="83" height="10" fill="#576c00"/><rect x="790" y="460" width="20" height="10" fill="#486c00"/><rect x="810" y="460" width="82" height="10" fill="#576c00"/><rect x="892" y="460" width="24" height="10" fill="#486c00"/><rect x="916" y="460" width="112" height="10" fill="#576c00"/><rect x="1028" y="460" width="12" height="10" fill="#486c00"/><rect x="1040" y="460" width="116" height="10" fill="#576c00"/><rect x="1156" y="460" width="24" height="10" fill="#486c00"/><rect x="1180" y="460" width="70" height="10" fill="#576c00"/><rect x="1250" y="460" width="20" height="10" fill="#486c00"/><rect x="1270" y="460" width="134" height="10" fill="#576c00"/><rect x="1404" y="460" width="16" height="10" fill="#486c00"/><rect x="1420" y="460" width="24" height="10" fill="#576c00"/><rect x="1444" y="460" width="40" height="10" fill="#486c00"/><rect x="1484" y="460" width="18" height="10" fill="#576c00"/><rect x="235" y="470" width="53" height="5" fill="#537300"/><rect x="288" y="470" width="42" height="5" fill="#447300"/><rect x="473" y="470" width="29" height="5" fill="#447300"/><rect x="502" y="470" width="177" height="5" fill="#537300"/><rect x="679" y="470" width="28" height="5" fill="#447300"/><rect x="790" y="470" width="20" height="5" fill="#447300"/><rect x="892" y="470" width="24" height="5" fill="#447300"/><rect x="1028" y="470" width="12" height="5" fill="#447300"/><rect x="1156" y="470" width="24" height="5" fill="#447300"/><rect x="1404" y="470" width="16" height="5" fill="#447300"/><rect x="1420" y="470" width="24" height="5" fill="#537300"/><rect x="1444" y="470" width="40" height="5" fill="#447300"/><rect x="892" y="475" width="24" height="5" fill="#1b7300"/><rect x="916" y="470" width="112" height="10" fill="#537300"/><rect x="892" y="480" width="21" height="20" fill="#1b7300"/><rect x="913" y="480" width="3" height="20" fill="#357300"/><rect x="916" y="480" width="5" height="20" fill="#6d7300"/><rect x="921" y="480" width="107" height="20" fill="#537300"/><rect x="235" y="475" width="52" height="28" fill="#537300"/><rect x="287" y="475" width="1" height="28" fill="#2b7300"/><rect x="288" y="475" width="21" height="28" fill="#1b7300"/><rect x="309" y="475" width="21" height="28" fill="#447300"/><rect x="473" y="475" width="2" height="28" fill="#447300"/><rect x="475" y="475" width="26" height="28" fill="#1b7300"/><rect x="501" y="475" width="1" height="28" fill="#447300"/><rect x="502" y="475" width="42" height="28" fill="#537300"/><rect x="544" y="475" width="8" height="28" fill="#2b7300"/><rect x="552" y="475" width="23" height="28" fill="#537300"/><rect x="575" y="475" width="8" height="28" fill="#2b7300"/><rect x="583" y="475" width="96" height="28" fill="#537300"/><rect x="679" y="475" width="28" height="28" fill="#1b7300"/><rect x="790" y="475" width="3" height="28" fill="#447300"/><rect x="793" y="475" width="14" height="28" fill="#1b7300"/><rect x="807" y="475" width="3" height="28" fill="#447300"/><rect x="892" y="500" width="24" height="3" fill="#1b7300"/><rect x="1028" y="475" width="8" height="28" fill="#1b7300"/><rect x="1036" y="475" width="4" height="28" fill="#447300"/><rect x="1156" y="475" width="24" height="28" fill="#1b7300"/><rect x="1404" y="475" width="2" height="28" fill="#447300"/><rect x="1406" y="475" width="13" height="28" fill="#1b7300"/><rect x="1419" y="475" width="1" height="28" fill="#447300"/><rect x="1420" y="475" width="23" height="28" fill="#537300"/><rect x="1443" y="475" width="1" height="28" fill="#2b7300"/><rect x="1444" y="475" width="32" height="28" fill="#1b7300"/><rect x="1476" y="475" width="8" height="28" fill="#447300"/><rect x="235" y="503" width="53" height="2" fill="#537300"/><rect x="288" y="503" width="42" height="2" fill="#447300"/><rect x="330" y="470" width="143" height="35" fill="#537300"/><rect x="473" y="503" width="29" height="2" fill="#447300"/><rect x="502" y="503" width="177" height="2" fill="#537300"/><rect x="679" y="503" width="28" height="2" fill="#447300"/><rect x="707" y="470" width="83" height="35" fill="#537300"/><rect x="790" y="503" width="20" height="2" fill="#447300"/><rect x="810" y="470" width="82" height="35" fill="#537300"/><rect x="892" y="503" width="24" height="2" fill="#447300"/><rect x="916" y="500" width="112" height="5" fill="#537300"/><rect x="1028" y="503" width="12" height="2" fill="#447300"/><rect x="1040" y="470" width="116" height="35" fill="#537300"/><rect x="1156" y="503" width="24" height="2" fill="#447300"/><rect x="1180" y="470" width="70" height="35" fill="#537300"/><rect x="1250" y="470" width="20" height="35" fill="#447300"/><rect x="1270" y="470" width="134" height="35" fill="#537300"/><rect x="1404" y="503" width="16" height="2" fill="#447300"/><rect x="1420" y="503" width="24" height="2" fill="#537300"/><rect x="1444" y="503" width="40" height="2" fill="#447300"/><rect x="1484" y="470" width="18" height="35" fill="#537300"/><rect x="235" y="505" width="53" height="4" fill="#816600"/><rect x="288" y="505" width="42" height="4" fill="#726600"/><rect x="330" y="505" width="8" height="4" fill="#816600"/><rect x="338" y="505" width="32" height="4" fill="#686600"/><rect x="370" y="505" width="62" height="4" fill="#776600"/><rect x="432" y="505" width="37" height="4" fill="#686600"/><rect x="469" y="505" width="4" height="4" fill="#776600"/><rect x="473" y="505" width="29" height="4" fill="#686600"/><rect x="502" y="505" width="21" height="4" fill="#776600"/><rect x="523" y="505" width="156" height="4" fill="#686600"/><rect x="916" y="505" width="112" height="4" fill="#686600"/><rect x="1028" y="505" width="12" height="4" fill="#586600"/><rect x="1040" y="505" width="116" height="4" fill="#686600"/><rect x="1250" y="505" width="20" height="4" fill="#586600"/><rect x="1270" y="505" width="134" height="4" fill="#686600"/><rect x="235" y="509" width="53" height="8" fill="#8e6600"/><rect x="288" y="509" width="42" height="8" fill="#7f6600"/><rect x="330" y="509" width="8" height="8" fill="#8e6600"/><rect x="338" y="509" width="32" height="8" fill="#756600"/><rect x="370" y="509" width="62" height="8" fill="#846600"/><rect x="432" y="509" width="37" height="8" fill="#756600"/><rect x="469" y="509" width="4" height="8" fill="#846600"/><rect x="473" y="509" width="29" height="8" fill="#756600"/><rect x="502" y="509" width="21" height="8" fill="#846600"/><rect x="523" y="509" width="37" height="8" fill="#756600"/><rect x="560" y="509" width="119" height="8" fill="#686600"/><rect x="916" y="509" width="12" height="8" fill="#686600"/><rect x="928" y="509" width="100" height="8" fill="#756600"/><rect x="1028" y="509" width="12" height="8" fill="#656600"/><rect x="1040" y="509" width="58" height="8" fill="#756600"/><rect x="1098" y="509" width="58" height="8" fill="#686600"/><rect x="1250" y="509" width="13" height="8" fill="#586600"/><rect x="1263" y="509" width="7" height="8" fill="#656600"/><rect x="1270" y="509" width="91" height="8" fill="#756600"/><rect x="1361" y="509" width="43" height="8" fill="#686600"/><rect x="235" y="517" width="53" height="3" fill="#816600"/><rect x="288" y="517" width="42" height="3" fill="#726600"/><rect x="330" y="517" width="8" height="3" fill="#816600"/><rect x="338" y="517" width="32" height="3" fill="#686600"/><rect x="370" y="517" width="62" height="3" fill="#776600"/><rect x="432" y="517" width="37" height="3" fill="#686600"/><rect x="469" y="517" width="4" height="3" fill="#776600"/><rect x="473" y="517" width="29" height="3" fill="#686600"/><rect x="502" y="517" width="21" height="3" fill="#776600"/><rect x="523" y="517" width="156" height="3" fill="#686600"/><rect x="679" y="505" width="28" height="15" fill="#656600"/><rect x="707" y="505" width="42" height="15" fill="#756600"/><rect x="749" y="505" width="41" height="15" fill="#686600"/><rect x="790" y="505" width="20" height="15" fill="#586600"/><rect x="810" y="505" width="82" height="15" fill="#686600"/><rect x="892" y="505" width="24" height="15" fill="#586600"/><rect x="916" y="517" width="112" height="3" fill="#686600"/><rect x="1028" y="517" width="12" height="3" fill="#586600"/><rect x="1040" y="517" width="116" height="3" fill="#686600"/><rect x="1156" y="505" width="24" height="15" fill="#586600"/><rect x="1180" y="505" width="70" height="15" fill="#686600"/><rect x="1250" y="517" width="20" height="3" fill="#586600"/><rect x="1270" y="517" width="134" height="3" fill="#686600"/><rect x="1404" y="505" width="16" height="15" fill="#586600"/><rect x="1420" y="505" width="24" height="15" fill="#686600"/><rect x="1444" y="505" width="40" height="15" fill="#586600"/><rect x="1484" y="505" width="18" height="15" fill="#686600"/><rect x="892" y="520" width="24" height="1" fill="#556000"/><rect x="1040" y="520" width="116" height="1" fill="#646000"/><rect x="1420" y="520" width="24" height="1" fill="#646000"/><rect x="1444" y="520" width="40" height="1" fill="#556000"/><rect x="235" y="520" width="53" height="25" fill="#7d6000"/><rect x="288" y="520" width="42" height="25" fill="#6e6000"/><rect x="330" y="520" width="8" height="25" fill="#7d6000"/><rect x="338" y="520" width="32" height="25" fill="#646000"/><rect x="370" y="520" width="62" height="25" fill="#736000"/><rect x="432" y="520" width="37" height="25" fill="#646000"/><rect x="469" y="520" width="4" height="25" fill="#736000"/><rect x="473" y="520" width="29" height="25" fill="#646000"/><rect x="502" y="520" width="21" height="25" fill="#736000"/><rect x="523" y="520" width="156" height="25" fill="#646000"/><rect x="679" y="520" width="28" height="25" fill="#616000"/><rect x="707" y="520" width="42" height="25" fill="#716000"/><rect x="749" y="520" width="41" height="25" fill="#646000"/><rect x="790" y="520" width="20" height="25" fill="#556000"/><rect x="810" y="520" width="82" height="25" fill="#646000"/><rect x="892" y="521" width="1" height="24" fill="#556000"/><rect x="893" y="521" width="20" height="24" fill="#736000"/><rect x="913" y="521" width="3" height="24" fill="#556000"/><rect x="916" y="520" width="112" height="25" fill="#646000"/><rect x="1028" y="520" width="12" height="25" fill="#556000"/><rect x="1040" y="521" width="21" height="24" fill="#646000"/><rect x="1061" y="521" width="37" height="24" fill="#736000"/><rect x="1098" y="521" width="58" height="24" fill="#646000"/><rect x="1156" y="520" width="24" height="25" fill="#556000"/><rect x="1180" y="520" width="70" height="25" fill="#646000"/><rect x="1250" y="520" width="20" height="25" fill="#556000"/><rect x="1270" y="520" width="134" height="25" fill="#646000"/><rect x="1404" y="520" width="16" height="25" fill="#556000"/><rect x="1420" y="521" width="23" height="24" fill="#646000"/><rect x="1443" y="521" width="1" height="24" fill="#926000"/><rect x="1444" y="521" width="32" height="24" fill="#836000"/><rect x="1476" y="521" width="8" height="24" fill="#556000"/><rect x="1484" y="520" width="18" height="25" fill="#646000"/><rect x="892" y="545" width="1" height="5" fill="#4c6000"/><rect x="893" y="545" width="20" height="5" fill="#6a6000"/><rect x="913" y="545" width="3" height="5" fill="#4c6000"/><rect x="1040" y="545" width="21" height="5" fill="#5b6000"/><rect x="1061" y="545" width="37" height="5" fill="#6a6000"/><rect x="1098" y="545" width="58" height="5" fill="#5b6000"/><rect x="1420" y="545" width="23" height="5" fill="#5b6000"/><rect x="1443" y="545" width="1" height="5" fill="#896000"/><rect x="1444" y="545" width="32" height="5" fill="#7a6000"/><rect x="1476" y="545" width="8" height="5" fill="#4c6000"/><rect x="288" y="545" width="42" height="30" fill="#4c6000"/><rect x="916" y="545" width="112" height="40" fill="#5b6000"/><rect x="1028" y="545" width="12" height="40" fill="#4c6000"/><rect x="1040" y="550" width="116" height="35" fill="#5b6000"/><rect x="1250" y="545" width="20" height="40" fill="#4c6000"/><rect x="1270" y="545" width="134" height="40" fill="#5b6000"/><rect x="330" y="545" width="143" height="54" fill="#5b6000"/><rect x="473" y="545" width="29" height="54" fill="#4c6000"/><rect x="502" y="545" width="177" height="54" fill="#5b6000"/><rect x="679" y="545" width="28" height="54" fill="#4c6000"/><rect x="707" y="545" width="83" height="54" fill="#5b6000"/><rect x="916" y="585" width="88" height="14" fill="#5b6000"/><rect x="1061" y="585" width="41" height="14" fill="#5b6000"/><rect x="1180" y="545" width="70" height="54" fill="#5b6000"/><rect x="1263" y="585" width="7" height="14" fill="#656000"/><rect x="1270" y="585" width="50" height="14" fill="#756000"/><rect x="1320" y="585" width="84" height="14" fill="#5b6000"/><rect x="235" y="545" width="53" height="55" fill="#5b6000"/><rect x="288" y="575" width="29" height="25" fill="#256000"/><rect x="317" y="575" width="13" height="25" fill="#4c6000"/><rect x="330" y="599" width="77" height="1" fill="#5b6000"/><rect x="407" y="599" width="52" height="1" fill="#326000"/><rect x="459" y="599" width="14" height="1" fill="#5b6000"/><rect x="473" y="599" width="2" height="1" fill="#4c6000"/><rect x="475" y="599" width="27" height="1" fill="#236000"/><rect x="502" y="599" width="37" height="1" fill="#326000"/><rect x="539" y="599" width="96" height="1" fill="#5b6000"/><rect x="635" y="599" width="24" height="1" fill="#326000"/><rect x="659" y="599" width="20" height="1" fill="#5b6000"/><rect x="679" y="599" width="20" height="1" fill="#4c6000"/><rect x="699" y="599" width="8" height="1" fill="#236000"/><rect x="707" y="599" width="20" height="1" fill="#326000"/><rect x="727" y="599" width="63" height="1" fill="#5b6000"/><rect x="790" y="545" width="20" height="55" fill="#4c6000"/><rect x="810" y="545" width="82" height="55" fill="#5b6000"/><rect x="892" y="550" width="24" height="50" fill="#4c6000"/><rect x="916" y="599" width="34" height="1" fill="#5b6000"/><rect x="950" y="599" width="25" height="1" fill="#326000"/><rect x="975" y="599" width="29" height="1" fill="#5b6000"/><rect x="1004" y="585" width="24" height="15" fill="#756000"/><rect x="1028" y="585" width="12" height="15" fill="#656000"/><rect x="1040" y="585" width="21" height="15" fill="#756000"/><rect x="1061" y="599" width="12" height="1" fill="#5b6000"/><rect x="1073" y="599" width="25" height="1" fill="#326000"/><rect x="1098" y="599" width="4" height="1" fill="#5b6000"/><rect x="1102" y="585" width="54" height="15" fill="#756000"/><rect x="1156" y="545" width="24" height="55" fill="#4c6000"/><rect x="1180" y="599" width="50" height="1" fill="#5b6000"/><rect x="1230" y="599" width="16" height="1" fill="#326000"/><rect x="1246" y="599" width="4" height="1" fill="#5b6000"/><rect x="1250" y="585" width="13" height="15" fill="#4c6000"/><rect x="1263" y="599" width="7" height="1" fill="#3c6000"/><rect x="1270" y="599" width="34" height="1" fill="#4c6000"/><rect x="1304" y="599" width="16" height="1" fill="#756000"/><rect x="1320" y="599" width="33" height="1" fill="#5b6000"/><rect x="1353" y="599" width="29" height="1" fill="#326000"/><rect x="1382" y="599" width="22" height="1" fill="#5b6000"/><rect x="1404" y="545" width="16" height="55" fill="#4c6000"/><rect x="1420" y="550" width="24" height="50" fill="#5b6000"/><rect x="1444" y="550" width="40" height="50" fill="#4c6000"/><rect x="1484" y="545" width="18" height="55" fill="#5b6000"/><rect x="330" y="600" width="77" height="3" fill="#577900"/><rect x="539" y="600" width="96" height="3" fill="#577900"/><rect x="1304" y="600" width="49" height="3" fill="#577900"/><rect x="330" y="603" width="1" height="9" fill="#577900"/><rect x="331" y="603" width="36" height="9" fill="#767900"/><rect x="367" y="603" width="40" height="9" fill="#577900"/><rect x="539" y="603" width="17" height="9" fill="#577900"/><rect x="556" y="603" width="74" height="9" fill="#767900"/><rect x="630" y="603" width="5" height="9" fill="#577900"/><rect x="1304" y="603" width="12" height="9" fill="#577900"/><rect x="1316" y="603" width="33" height="9" fill="#767900"/><rect x="1349" y="603" width="4" height="9" fill="#577900"/><rect x="330" y="612" width="77" height="11" fill="#577900"/><rect x="407" y="600" width="52" height="23" fill="#2e7900"/><rect x="459" y="600" width="14" height="23" fill="#577900"/><rect x="473" y="600" width="2" height="23" fill="#487900"/><rect x="475" y="600" width="27" height="23" fill="#1f7900"/><rect x="502" y="600" width="37" height="23" fill="#2e7900"/><rect x="539" y="612" width="96" height="11" fill="#577900"/><rect x="635" y="600" width="24" height="23" fill="#2e7900"/><rect x="659" y="600" width="20" height="23" fill="#577900"/><rect x="679" y="600" width="20" height="23" fill="#487900"/><rect x="699" y="600" width="8" height="23" fill="#1f7900"/><rect x="707" y="600" width="20" height="23" fill="#2e7900"/><rect x="727" y="600" width="63" height="23" fill="#577900"/><rect x="916" y="600" width="34" height="23" fill="#577900"/><rect x="950" y="600" width="25" height="23" fill="#2e7900"/><rect x="975" y="600" width="53" height="23" fill="#577900"/><rect x="1040" y="600" width="33" height="23" fill="#577900"/><rect x="1073" y="600" width="25" height="23" fill="#2e7900"/><rect x="1098" y="600" width="58" height="23" fill="#577900"/><rect x="1180" y="600" width="50" height="23" fill="#577900"/><rect x="1230" y="600" width="16" height="23" fill="#2e7900"/><rect x="1246" y="600" width="4" height="23" fill="#577900"/><rect x="1250" y="600" width="13" height="23" fill="#487900"/><rect x="1263" y="600" width="7" height="23" fill="#1f7900"/><rect x="1270" y="600" width="34" height="23" fill="#2e7900"/><rect x="1304" y="612" width="49" height="11" fill="#577900"/><rect x="1353" y="600" width="29" height="23" fill="#2e7900"/><rect x="1382" y="600" width="22" height="23" fill="#577900"/><rect x="235" y="600" width="53" height="25" fill="#577900"/><rect x="288" y="600" width="42" height="25" fill="#487900"/><rect x="330" y="623" width="143" height="2" fill="#577900"/><rect x="473" y="623" width="29" height="2" fill="#487900"/><rect x="502" y="623" width="177" height="2" fill="#577900"/><rect x="679" y="623" width="28" height="2" fill="#487900"/><rect x="707" y="623" width="83" height="2" fill="#577900"/><rect x="790" y="600" width="20" height="25" fill="#487900"/><rect x="810" y="600" width="82" height="25" fill="#577900"/><rect x="892" y="600" width="24" height="25" fill="#487900"/><rect x="916" y="623" width="112" height="2" fill="#577900"/><rect x="1028" y="600" width="12" height="25" fill="#487900"/><rect x="1040" y="623" width="116" height="2" fill="#577900"/><rect x="1156" y="600" width="24" height="25" fill="#487900"/><rect x="1180" y="623" width="70" height="2" fill="#577900"/><rect x="1250" y="623" width="20" height="2" fill="#487900"/><rect x="1270" y="623" width="134" height="2" fill="#577900"/><rect x="1404" y="600" width="16" height="25" fill="#487900"/><rect x="1420" y="600" width="24" height="25" fill="#577900"/><rect x="1444" y="600" width="40" height="25" fill="#487900"/><rect x="1484" y="600" width="18" height="25" fill="#577900"/><rect x="235" y="625" width="53" height="15" fill="#5a6000"/><rect x="288" y="625" width="42" height="15" fill="#4a6000"/><rect x="330" y="625" width="143" height="15" fill="#5a6000"/><rect x="473" y="625" width="29" height="15" fill="#4a6000"/><rect x="502" y="625" width="177" height="15" fill="#5a6000"/><rect x="679" y="625" width="28" height="15" fill="#4a6000"/><rect x="707" y="625" width="83" height="15" fill="#5a6000"/><rect x="790" y="625" width="20" height="15" fill="#4a6000"/><rect x="810" y="625" width="82" height="15" fill="#5a6000"/><rect x="892" y="625" width="24" height="15" fill="#4a6000"/><rect x="916" y="625" width="112" height="15" fill="#5a6000"/><rect x="1028" y="625" width="12" height="15" fill="#4a6000"/><rect x="1040" y="625" width="116" height="15" fill="#5a6000"/><rect x="1156" y="625" width="24" height="15" fill="#4a6000"/><rect x="1180" y="625" width="70" height="15" fill="#5a6000"/><rect x="1250" y="625" width="20" height="15" fill="#4a6000"/><rect x="1270" y="625" width="134" height="15" fill="#5a6000"/><rect x="1404" y="625" width="16" height="15" fill="#4a6000"/><rect x="1420" y="625" width="24" height="15" fill="#5a6000"/><rect x="1444" y="625" width="40" height="15" fill="#4a6000"/><rect x="1484" y="625" width="18" height="15" fill="#5a6000"/><rect x="235" y="640" width="53" height="5" fill="#556000"/><rect x="288" y="640" width="42" height="5" fill="#456000"/><rect x="330" y="640" width="143" height="5" fill="#556000"/><rect x="473" y="640" width="29" height="5" fill="#456000"/><rect x="502" y="640" width="177" height="5" fill="#556000"/><rect x="679" y="640" width="28" height="5" fill="#456000"/><rect x="707" y="640" width="83" height="5" fill="#556000"/><rect x="790" y="640" width="20" height="5" fill="#456000"/><rect x="810" y="640" width="82" height="5" fill="#556000"/><rect x="892" y="640" width="24" height="5" fill="#456000"/><rect x="916" y="640" width="112" height="5" fill="#556000"/><rect x="1028" y="640" width="12" height="5" fill="#456000"/><rect x="1040" y="640" width="116" height="5" fill="#556000"/><rect x="1156" y="640" width="24" height="5" fill="#456000"/><rect x="1180" y="640" width="70" height="5" fill="#556000"/><rect x="1250" y="640" width="20" height="5" fill="#456000"/><rect x="1270" y="640" width="134" height="5" fill="#556000"/><rect x="1404" y="640" width="16" height="5" fill="#456000"/><rect x="1420" y="640" width="24" height="5" fill="#556000"/><rect x="1444" y="640" width="40" height="5" fill="#456000"/><rect x="1484" y="640" width="18" height="5" fill="#556000"/><rect x="235" y="645" width="53" height="5" fill="#716000"/><rect x="288" y="645" width="42" height="5" fill="#616000"/><rect x="330" y="645" width="143" height="5" fill="#5c6000"/><rect x="473" y="645" width="29" height="5" fill="#4d6000"/><rect x="502" y="645" width="177" height="5" fill="#5c6000"/><rect x="679" y="645" width="28" height="5" fill="#4d6000"/><rect x="707" y="645" width="83" height="5" fill="#5c6000"/><rect x="790" y="645" width="20" height="5" fill="#4d6000"/><rect x="810" y="645" width="70" height="5" fill="#5c6000"/><rect x="880" y="645" width="12" height="5" fill="#716000"/><rect x="892" y="645" width="21" height="5" fill="#616000"/><rect x="913" y="645" width="3" height="5" fill="#4d6000"/><rect x="916" y="645" width="112" height="5" fill="#5c6000"/><rect x="1028" y="645" width="12" height="5" fill="#4d6000"/><rect x="1040" y="645" width="116" height="5" fill="#5c6000"/><rect x="1156" y="645" width="24" height="5" fill="#616000"/><rect x="1180" y="645" width="41" height="5" fill="#716000"/><rect x="1221" y="645" width="29" height="5" fill="#5c6000"/><rect x="1250" y="645" width="20" height="5" fill="#4d6000"/><rect x="1270" y="645" width="134" height="5" fill="#5c6000"/><rect x="1404" y="645" width="16" height="5" fill="#4d6000"/><rect x="1420" y="645" width="24" height="5" fill="#5c6000"/><rect x="1444" y="645" width="40" height="5" fill="#4d6000"/><rect x="1484" y="645" width="18" height="5" fill="#5c6000"/><rect x="288" y="650" width="42" height="50" fill="#446000"/><rect x="473" y="650" width="29" height="50" fill="#446000"/><rect x="679" y="650" width="28" height="50" fill="#446000"/><rect x="790" y="650" width="20" height="50" fill="#446000"/><rect x="892" y="650" width="24" height="50" fill="#446000"/><rect x="1028" y="650" width="12" height="50" fill="#446000"/><rect x="1156" y="650" width="24" height="50" fill="#446000"/><rect x="1250" y="650" width="20" height="50" fill="#446000"/><rect x="1404" y="650" width="16" height="50" fill="#446000"/><rect x="1444" y="650" width="40" height="50" fill="#446000"/><rect x="235" y="700" width="53" height="5" fill="#5a6000"/><rect x="288" y="700" width="42" height="5" fill="#4a6000"/><rect x="473" y="700" width="29" height="5" fill="#4a6000"/><rect x="502" y="700" width="177" height="5" fill="#5a6000"/><rect x="679" y="700" width="28" height="5" fill="#4a6000"/><rect x="707" y="700" width="83" height="5" fill="#5a6000"/><rect x="790" y="700" width="20" height="5" fill="#4a6000"/><rect x="810" y="700" width="82" height="5" fill="#5a6000"/><rect x="892" y="700" width="24" height="5" fill="#4a6000"/><rect x="1040" y="700" width="116" height="5" fill="#5a6000"/><rect x="1156" y="700" width="24" height="5" fill="#4a6000"/><rect x="1270" y="700" width="134" height="5" fill="#5a6000"/><rect x="1404" y="700" width="16" height="5" fill="#4a6000"/><rect x="1420" y="700" width="24" height="5" fill="#5a6000"/><rect x="1444" y="700" width="40" height="5" fill="#4a6000"/><rect x="1484" y="700" width="18" height="5" fill="#5a6000"/><rect x="235" y="705" width="53" height="37" fill="#4d8c00"/><rect x="288" y="705" width="35" height="37" fill="#3e8c00"/><rect x="323" y="705" width="7" height="37" fill="#4a6000"/><rect x="473" y="705" width="29" height="37" fill="#2c6000"/><rect x="502" y="705" width="169" height="37" fill="#5a6000"/><rect x="671" y="705" width="8" height="37" fill="#3b6000"/><rect x="679" y="705" width="25" height="37" fill="#2c6000"/><rect x="704" y="705" width="3" height="37" fill="#4a6000"/><rect x="707" y="705" width="79" height="37" fill="#5a6000"/><rect x="786" y="705" width="4" height="37" fill="#3b6000"/><rect x="790" y="705" width="20" height="37" fill="#2c6000"/><rect x="810" y="705" width="58" height="37" fill="#5a6000"/><rect x="868" y="705" width="24" height="37" fill="#3b6000"/><rect x="892" y="705" width="21" height="37" fill="#2c6000"/><rect x="913" y="705" width="3" height="37" fill="#4a6000"/><rect x="1040" y="705" width="58" height="37" fill="#5a6000"/><rect x="1098" y="705" width="25" height="37" fill="#3b6000"/><rect x="1123" y="705" width="12" height="37" fill="#5a6000"/><rect x="1135" y="705" width="21" height="37" fill="#676000"/><rect x="1156" y="705" width="8" height="37" fill="#576000"/><rect x="1164" y="705" width="16" height="37" fill="#4a6000"/><rect x="1270" y="705" width="132" height="37" fill="#5a6000"/><rect x="1402" y="705" width="2" height="37" fill="#3b6000"/><rect x="1404" y="705" width="16" height="37" fill="#2c6000"/><rect x="1420" y="705" width="7" height="37" fill="#3b6000"/><rect x="1427" y="705" width="16" height="37" fill="#5a6000"/><rect x="1443" y="705" width="1" height="37" fill="#3b6000"/><rect x="1444" y="705" width="40" height="37" fill="#2c6000"/><rect x="1484" y="705" width="17" height="37" fill="#3b6000"/><rect x="1501" y="705" width="1" height="37" fill="#5a6000"/><rect x="235" y="742" width="53" height="3" fill="#5a6000"/><rect x="288" y="742" width="42" height="3" fill="#4a6000"/><rect x="330" y="700" width="143" height="45" fill="#5a6000"/><rect x="473" y="742" width="29" height="3" fill="#4a6000"/><rect x="502" y="742" width="177" height="3" fill="#5a6000"/><rect x="679" y="742" width="28" height="3" fill="#4a6000"/><rect x="707" y="742" width="83" height="3" fill="#5a6000"/><rect x="790" y="742" width="20" height="3" fill="#4a6000"/><rect x="810" y="742" width="82" height="3" fill="#5a6000"/><rect x="892" y="742" width="24" height="3" fill="#4a6000"/><rect x="916" y="700" width="112" height="45" fill="#5a6000"/><rect x="1028" y="700" width="12" height="45" fill="#4a6000"/><rect x="1040" y="742" width="116" height="3" fill="#5a6000"/><rect x="1156" y="742" width="24" height="3" fill="#4a6000"/><rect x="1180" y="700" width="70" height="45" fill="#5a6000"/><rect x="1250" y="700" width="20" height="45" fill="#4a6000"/><rect x="1270" y="742" width="134" height="3" fill="#5a6000"/><rect x="1404" y="742" width="16" height="3" fill="#4a6000"/><rect x="1420" y="742" width="24" height="3" fill="#5a6000"/><rect x="1444" y="742" width="40" height="3" fill="#4a6000"/><rect x="1484" y="742" width="18" height="3" fill="#5a6000"/><path d="M490,326Q690,416 890,326" stroke="#000" stroke-opacity="0.36" stroke-width="7" fill="none"/><path d="M490,344Q690,434 890,344" stroke="#000" stroke-opacity="0.36" stroke-width="7" fill="none"/><path d="M490,362Q690,452 890,362" stroke="#000" stroke-opacity="0.36" stroke-width="7" fill="none"/><path d="M490,380Q690,470 890,380" stroke="#000" stroke-opacity="0.36" stroke-width="7" fill="none"/><path d="M490,398Q690,488 890,398" stroke="#000" stroke-opacity="0.36" stroke-width="7" fill="none"/><path d="M1130,322Q1290,412 1450,322" stroke="#000" stroke-opacity="0.36" stroke-width="7" fill="none"/><path d="M1130,340Q1290,430 1450,340" stroke="#000" stroke-opacity="0.36" stroke-width="7" fill="none"/><path d="M1130,358Q1290,448 1450,358" stroke="#000" stroke-opacity="0.36" stroke-width="7" fill="none"/><path d="M1130,376Q1290,466 1450,376" stroke="#000" stroke-opacity="0.36" stroke-width="7" fill="none"/><path d="M1130,394Q1290,484 1450,394" stroke="#000" stroke-opacity="0.36" stroke-width="7" fill="none"/><path d="M490,262Q690,322 890,262" stroke="#000" stroke-opacity="0.3" stroke-width="7" fill="none"/><path d="M490,244Q690,304 890,244" stroke="#000" stroke-opacity="0.3" stroke-width="7" fill="none"/><path d="M490,226Q690,286 890,226" stroke="#000" stroke-opacity="0.3" stroke-width="7" fill="none"/><path d="M490,208Q690,268 890,208" stroke="#000" stroke-opacity="0.3" stroke-width="7" fill="none"/><path d="M490,190Q690,250 890,190" stroke="#000" stroke-opacity="0.3" stroke-width="7" fill="none"/><path d="M490,172Q690,232 890,172" stroke="#000" stroke-opacity="0.3" stroke-width="7" fill="none"/><path d="M490,154Q690,214 890,154" stroke="#000" stroke-opacity="0.3" stroke-width="7" fill="none"/><path d="M1130,262Q1290,322 1450,262" stroke="#000" stroke-opacity="0.3" stroke-width="7" fill="none"/><path d="M1130,244Q1290,304 1450,244" stroke="#000" stroke-opacity="0.3" stroke-width="7" fill="none"/><path d="M1130,226Q1290,286 1450,226" stroke="#000" stroke-opacity="0.3" stroke-width="7" fill="none"/><path d="M1130,208Q1290,268 1450,208" stroke="#000" stroke-opacity="0.3" stroke-width="7" fill="none"/><path d="M1130,190Q1290,250 1450,190" stroke="#000" stroke-opacity="0.3" stroke-width="7" fill="none"/><path d="M1130,172Q1290,232 1450,172" stroke="#000" stroke-opacity="0.3" stroke-width="7" fill="none"/><path d="M1130,154Q1290,214 1450,154" stroke="#000" stroke-opacity="0.3" stroke-width="7" fill="none"/><path d="M1160,520Q1300,590 1440,520" stroke="#000" stroke-opacity="0.3" stroke-width="7" fill="none"/><path d="M1160,538Q1300,608 1440,538" stroke="#000" stroke-opacity="0.3" stroke-width="7" fill="none"/><path d="M1160,556Q1300,626 1440,556" stroke="#000" stroke-opacity="0.3" stroke-width="7" fill="none"/><path d="M1160,628Q1300,698 1440,628" stroke="#000" stroke-opacity="0.3" stroke-width="7" fill="none"/><path d="M1160,646Q1300,716 1440,646" stroke="#000" stroke-opacity="0.3" stroke-width="7" fill="none"/><path d="M520,530Q690,600 860,530" stroke="#000" stroke-opacity="0.25" stroke-width="7" fill="none"/><path d="M520,548Q690,618 860,548" stroke="#000" stroke-opacity="0.25" stroke-width="7" fill="none"/><path d="M520,566Q690,636 860,566" stroke="#000" stroke-opacity="0.25" stroke-width="7" fill="none"/><path d="M520,632Q690,702 860,632" stroke="#000" stroke-opacity="0.25" stroke-width="7" fill="none"/><path d="M520,650Q690,720 860,650" stroke="#000" stroke-opacity="0.25" stroke-width="7" fill="none"/><rect x="286" y="467" width="2" height="31" fill-opacity="0.44"/><rect x="1399" y="473" width="3" height="31" fill-opacity="0.41"/><rect x="1395" y="466" width="3" height="26" fill-opacity="0.47"/><rect x="248" y="473" width="1" height="22" fill-opacity="0.48"/><rect x="1024" y="472" width="1" height="30" fill-opacity="0.51"/><rect x="884" y="463" width="2" height="30" fill-opacity="0.42"/><rect x="1490" y="466" width="2" height="37" fill-opacity="0.41"/><rect x="887" y="463" width="1" height="30" fill-opacity="0.48"/><rect x="982" y="471" width="1" height="23" fill-opacity="0.46"/><rect x="501" y="467" width="1" height="33" fill-opacity="0.54"/><rect x="1408" y="461" width="2" height="37" fill-opacity="0.65"/><rect x="1056" y="462" width="2" height="37" fill-opacity="0.67"/><rect x="879" y="475" width="1" height="18" fill-opacity="0.67"/><rect x="527" y="464" width="2" height="34" fill-opacity="0.62"/><rect x="1432" y="472" width="2" height="22" fill-opacity="0.47"/><rect x="1278" y="462" width="2" height="42" fill-opacity="0.66"/><rect x="712" y="462" width="2" height="31" fill-opacity="0.51"/><rect x="1318" y="460" width="2" height="42" fill-opacity="0.60"/><rect x="781" y="463" width="2" height="33" fill-opacity="0.53"/><rect x="914" y="463" width="1" height="33" fill-opacity="0.65"/><rect x="642" y="471" width="1" height="29" fill-opacity="0.56"/><rect x="1321" y="470" width="1" height="20" fill-opacity="0.41"/><rect x="864" y="461" width="1" height="37" fill-opacity="0.66"/><rect x="410" y="462" width="2" height="39" fill-opacity="0.44"/><rect x="1404" y="473" width="2" height="26" fill-opacity="0.68"/><rect x="646" y="472" width="2" height="22" fill-opacity="0.53"/><rect x="482" y="467" width="1" height="36" fill-opacity="0.50"/><rect x="706" y="467" width="3" height="38" fill-opacity="0.42"/><rect x="703" y="461" width="1" height="34" fill-opacity="0.42"/><rect x="1253" y="464" width="3" height="26" fill-opacity="0.47"/><rect x="1158" y="463" width="1" height="29" fill-opacity="0.51"/><rect x="321" y="461" width="1" height="32" fill-opacity="0.62"/><rect x="458" y="466" width="1" height="33" fill-opacity="0.56"/><rect x="686" y="467" width="2" height="36" fill-opacity="0.53"/><rect x="1362" y="461" width="1" height="44" fill-opacity="0.69"/><rect x="719" y="473" width="1" height="17" fill-opacity="0.54"/><rect x="355" y="472" width="1" height="33" fill-opacity="0.70"/><rect x="1258" y="475" width="2" height="26" fill-opacity="0.46"/><rect x="315" y="461" width="3" height="34" fill-opacity="0.42"/><rect x="1264" y="465" width="3" height="39" fill-opacity="0.69"/><rect x="673" y="462" width="3" height="36" fill-opacity="0.52"/><rect x="1401" y="461" width="1" height="42" fill-opacity="0.53"/><rect x="1305" y="468" width="2" height="31" fill-opacity="0.60"/><rect x="907" y="469" width="1" height="22" fill-opacity="0.49"/><rect x="383" y="474" width="1" height="28" fill-opacity="0.42"/><rect x="890" y="462" width="2" height="36" fill-opacity="0.51"/><rect x="1413" y="460" width="3" height="36" fill-opacity="0.68"/><rect x="685" y="463" width="1" height="38" fill-opacity="0.48"/><rect x="937" y="468" width="1" height="22" fill-opacity="0.48"/><rect x="339" y="473" width="1" height="24" fill-opacity="0.41"/><rect x="709" y="465" width="2" height="26" fill-opacity="0.57"/><rect x="285" y="464" width="1" height="40" fill-opacity="0.65"/><rect x="538" y="464" width="2" height="40" fill-opacity="0.49"/><rect x="316" y="466" width="2" height="32" fill-opacity="0.60"/><rect x="1420" y="464" width="3" height="34" fill-opacity="0.66"/><rect x="597" y="460" width="2" height="40" fill-opacity="0.62"/><rect x="1188" y="468" width="1" height="32" fill-opacity="0.64"/><rect x="332" y="467" width="2" height="32" fill-opacity="0.64"/><rect x="896" y="460" width="1" height="39" fill-opacity="0.52"/><rect x="512" y="471" width="2" height="22" fill-opacity="0.60"/><rect x="913" y="463" width="1" height="34" fill-opacity="0.45"/><rect x="778" y="463" width="1" height="29" fill-opacity="0.50"/><rect x="1128" y="463" width="3" height="30" fill-opacity="0.67"/><rect x="323" y="460" width="2" height="39" fill-opacity="0.51"/><rect x="1038" y="469" width="1" height="27" fill-opacity="0.60"/><rect x="917" y="466" width="1" height="26" fill-opacity="0.60"/><rect x="708" y="469" width="3" height="24" fill-opacity="0.56"/><rect x="895" y="470" width="2" height="21" fill-opacity="0.53"/><rect x="1281" y="465" width="2" height="38" fill-opacity="0.49"/><rect x="921" y="467" width="1" height="29" fill-opacity="0.47"/><rect x="280" y="590" width="1" height="33" fill-opacity="0.54"/><rect x="1413" y="587" width="1" height="23" fill-opacity="0.52"/><rect x="335" y="588" width="1" height="30" fill-opacity="0.45"/><rect x="1295" y="576" width="2" height="42" fill-opacity="0.68"/><rect x="698" y="585" width="3" height="26" fill-opacity="0.58"/><rect x="1268" y="589" width="2" height="31" fill-opacity="0.62"/><rect x="897" y="591" width="2" height="19" fill-opacity="0.59"/><rect x="508" y="582" width="2" height="35" fill-opacity="0.50"/><rect x="400" y="579" width="1" height="39" fill-opacity="0.51"/><rect x="784" y="588" width="2" height="27" fill-opacity="0.56"/><rect x="806" y="575" width="2" height="38" fill-opacity="0.54"/><rect x="846" y="588" width="2" height="30" fill-opacity="0.55"/><rect x="1241" y="585" width="2" height="28" fill-opacity="0.62"/><rect x="496" y="575" width="3" height="38" fill-opacity="0.58"/><rect x="406" y="579" width="2" height="32" fill-opacity="0.45"/><rect x="1031" y="585" width="2" height="30" fill-opacity="0.63"/><rect x="1162" y="590" width="1" height="35" fill-opacity="0.62"/><rect x="1032" y="576" width="1" height="49" fill-opacity="0.68"/><rect x="317" y="582" width="1" height="39" fill-opacity="0.54"/><rect x="809" y="586" width="2" height="34" fill-opacity="0.58"/><rect x="469" y="584" width="1" height="38" fill-opacity="0.57"/><rect x="1414" y="587" width="2" height="32" fill-opacity="0.42"/><rect x="732" y="584" width="1" height="38" fill-opacity="0.64"/><rect x="319" y="588" width="2" height="26" fill-opacity="0.42"/><rect x="260" y="590" width="2" height="32" fill-opacity="0.53"/><rect x="1249" y="580" width="2" height="29" fill-opacity="0.69"/><rect x="1424" y="588" width="2" height="29" fill-opacity="0.50"/><rect x="480" y="582" width="2" height="29" fill-opacity="0.57"/><rect x="923" y="590" width="1" height="25" fill-opacity="0.45"/><rect x="903" y="583" width="2" height="42" fill-opacity="0.55"/><rect x="806" y="582" width="2" height="28" fill-opacity="0.59"/><rect x="283" y="582" width="2" height="31" fill-opacity="0.61"/><rect x="1457" y="591" width="2" height="23" fill-opacity="0.53"/><rect x="912" y="589" width="2" height="28" fill-opacity="0.49"/><rect x="800" y="580" width="1" height="39" fill-opacity="0.46"/><rect x="1482" y="584" width="3" height="38" fill-opacity="0.65"/><rect x="1029" y="575" width="2" height="46" fill-opacity="0.48"/><rect x="1368" y="579" width="2" height="31" fill-opacity="0.43"/><rect x="912" y="589" width="2" height="26" fill-opacity="0.46"/><rect x="1247" y="587" width="1" height="23" fill-opacity="0.42"/><rect x="344" y="579" width="1" height="37" fill-opacity="0.43"/><rect x="1420" y="582" width="3" height="27" fill-opacity="0.51"/><rect x="843" y="588" width="3" height="28" fill-opacity="0.57"/><rect x="511" y="581" width="1" height="36" fill-opacity="0.60"/><rect x="704" y="580" width="1" height="45" fill-opacity="0.52"/><rect x="1197" y="576" width="2" height="42" fill-opacity="0.49"/><rect x="1244" y="583" width="1" height="36" fill-opacity="0.53"/><rect x="540" y="579" width="2" height="44" fill-opacity="0.42"/><rect x="1453" y="584" width="3" height="27" fill-opacity="0.44"/><rect x="1059" y="591" width="2" height="19" fill-opacity="0.53"/><rect x="1119" y="583" width="2" height="42" fill-opacity="0.43"/><rect x="1413" y="575" width="3" height="42" fill-opacity="0.57"/><rect x="593" y="591" width="2" height="20" fill-opacity="0.67"/><rect x="1461" y="577" width="2" height="33" fill-opacity="0.50"/><rect x="473" y="588" width="2" height="22" fill-opacity="0.49"/><rect x="1361" y="714" width="1" height="29" fill-opacity="0.49"/><rect x="1178" y="714" width="1" height="18" fill-opacity="0.42"/><rect x="1255" y="701" width="2" height="38" fill-opacity="0.48"/><rect x="910" y="703" width="2" height="42" fill-opacity="0.69"/><rect x="725" y="709" width="1" height="36" fill-opacity="0.57"/><rect x="492" y="704" width="1" height="26" fill-opacity="0.68"/><rect x="908" y="715" width="2" height="23" fill-opacity="0.54"/><rect x="818" y="704" width="3" height="39" fill-opacity="0.48"/><rect x="1084" y="708" width="2" height="37" fill-opacity="0.48"/><rect x="1471" y="704" width="2" height="27" fill-opacity="0.56"/><rect x="1428" y="714" width="2" height="21" fill-opacity="0.66"/><rect x="724" y="712" width="3" height="26" fill-opacity="0.66"/><rect x="1048" y="712" width="2" height="29" fill-opacity="0.55"/><rect x="1415" y="714" width="1" height="28" fill-opacity="0.56"/><rect x="695" y="702" width="1" height="28" fill-opacity="0.63"/><rect x="1478" y="702" width="2" height="33" fill-opacity="0.66"/><rect x="1013" y="715" width="2" height="29" fill-opacity="0.59"/><rect x="896" y="713" width="1" height="29" fill-opacity="0.63"/><rect x="440" y="705" width="2" height="31" fill-opacity="0.67"/><rect x="296" y="711" width="2" height="21" fill-opacity="0.44"/><rect x="1394" y="705" width="1" height="35" fill-opacity="0.42"/><rect x="728" y="704" width="2" height="34" fill-opacity="0.54"/><rect x="924" y="714" width="1" height="22" fill-opacity="0.60"/><rect x="1262" y="709" width="3" height="23" fill-opacity="0.61"/><rect x="894" y="715" width="2" height="27" fill-opacity="0.47"/><rect x="1412" y="709" width="2" height="36" fill-opacity="0.69"/><rect x="797" y="701" width="1" height="29" fill-opacity="0.65"/><rect x="706" y="711" width="3" height="27" fill-opacity="0.59"/><rect x="515" y="701" width="1" height="35" fill-opacity="0.64"/><rect x="1026" y="709" width="1" height="26" fill-opacity="0.62"/><rect x="703" y="708" width="2" height="32" fill-opacity="0.48"/><rect x="1221" y="710" width="2" height="32" fill-opacity="0.54"/><rect x="805" y="711" width="3" height="32" fill-opacity="0.64"/><rect x="1401" y="711" width="2" height="26" fill-opacity="0.58"/><rect x="995" y="707" width="1" height="23" fill-opacity="0.41"/><rect x="1384" y="707" width="2" height="36" fill-opacity="0.59"/><rect x="923" y="703" width="2" height="38" fill-opacity="0.41"/><rect x="1247" y="707" width="1" height="34" fill-opacity="0.52"/><rect x="1420" y="704" width="3" height="28" fill-opacity="0.60"/><rect x="1495" y="708" width="2" height="36" fill-opacity="0.61"/><rect x="1255" y="703" width="2" height="31" fill-opacity="0.56"/><rect x="969" y="712" width="1" height="25" fill-opacity="0.46"/><rect x="1245" y="700" width="1" height="44" fill-opacity="0.64"/><rect x="705" y="702" width="1" height="37" fill-opacity="0.58"/><rect x="712" y="704" width="2" height="41" fill-opacity="0.48"/><rect x="501" y="786" width="3" height="24" fill-opacity="0.43"/><rect x="504" y="787" width="1" height="22" fill-opacity="0.58"/><rect x="885" y="788" width="1" height="16" fill-opacity="0.43"/><rect x="1263" y="791" width="3" height="20" fill-opacity="0.54"/><rect x="1436" y="786" width="3" height="19" fill-opacity="0.59"/><rect x="1265" y="792" width="2" height="19" fill-opacity="0.55"/><rect x="385" y="787" width="1" height="16" fill-opacity="0.44"/><rect x="1474" y="790" width="3" height="17" fill-opacity="0.51"/><rect x="838" y="790" width="2" height="13" fill-opacity="0.53"/><rect x="469" y="785" width="3" height="21" fill-opacity="0.54"/><rect x="1047" y="788" width="2" height="23" fill-opacity="0.49"/><rect x="905" y="792" width="1" height="13" fill-opacity="0.42"/><rect x="425" y="783" width="2" height="24" fill-opacity="0.64"/><rect x="1436" y="790" width="3" height="17" fill-opacity="0.60"/><rect x="1149" y="791" width="2" height="17" fill-opacity="0.51"/><rect x="670" y="792" width="1" height="13" fill-opacity="0.47"/><rect x="1417" y="786" width="1" height="17" fill-opacity="0.47"/><rect x="1429" y="791" width="1" height="11" fill-opacity="0.65"/><rect x="686" y="787" width="2" height="20" fill-opacity="0.40"/><rect x="1394" y="783" width="2" height="27" fill-opacity="0.62"/><rect x="422" y="785" width="3" height="21" fill-opacity="0.53"/><rect x="1037" y="791" width="2" height="12" fill-opacity="0.43"/><rect x="717" y="782" width="3" height="20" fill-opacity="0.42"/><rect x="1177" y="789" width="3" height="17" fill-opacity="0.48"/><rect x="468" y="788" width="2" height="23" fill-opacity="0.48"/><rect x="1231" y="792" width="3" height="16" fill-opacity="0.41"/><rect x="1437" y="785" width="1" height="23" fill-opacity="0.68"/><rect x="758" y="787" width="2" height="24" fill-opacity="0.40"/><rect x="594" y="788" width="1" height="16" fill-opacity="0.61"/><rect x="960" y="788" width="1" height="24" fill-opacity="0.53"/><rect x="483" y="788" width="3" height="15" fill-opacity="0.52"/><rect x="827" y="788" width="1" height="24" fill-opacity="0.69"/><rect x="1463" y="783" width="2" height="23" fill-opacity="0.65"/><rect x="1459" y="783" width="3" height="23" fill-opacity="0.66"/><rect x="688" y="784" width="2" height="27" fill-opacity="0.55"/><rect x="1406" y="787" width="2" height="15" fill-opacity="0.64"/><rect x="685" y="784" width="1" height="19" fill-opacity="0.45"/><rect x="389" y="792" width="1" height="13" fill-opacity="0.54"/><rect x="1421" y="792" width="2" height="11" fill-opacity="0.59"/><rect x="896" y="784" width="2" height="21" fill-opacity="0.42"/><rect x="899" y="782" width="3" height="25" fill-opacity="0.55"/><rect x="1242" y="787" width="1" height="21" fill-opacity="0.42"/><rect x="419" y="791" width="3" height="13" fill-opacity="0.52"/><rect x="319" y="791" width="2" height="11" fill-opacity="0.46"/><rect x="1261" y="782" width="1" height="23" fill-opacity="0.43"/><rect x="938" y="212" width="1" height="77" fill-opacity="0.41"/><rect x="1134" y="213" width="3" height="48" fill-opacity="0.45"/><rect x="906" y="201" width="2" height="61" fill-opacity="0.42"/><rect x="920" y="201" width="1" height="93" fill-opacity="0.57"/><rect x="924" y="189" width="3" height="90" fill-opacity="0.42"/><rect x="951" y="205" width="2" height="87" fill-opacity="0.58"/><rect x="869" y="204" width="3" height="75" fill-opacity="0.64"/><rect x="1313" y="207" width="1" height="61" fill-opacity="0.51"/><rect x="682" y="211" width="2" height="77" fill-opacity="0.47"/><rect x="481" y="212" width="1" height="54" fill-opacity="0.65"/><rect x="312" y="219" width="2" height="73" fill-opacity="0.58"/><rect x="713" y="190" width="3" height="82" fill-opacity="0.41"/><rect x="808" y="198" width="3" height="74" fill-opacity="0.47"/><rect x="1252" y="216" width="2" height="56" fill-opacity="0.54"/><rect x="1178" y="206" width="3" height="84" fill-opacity="0.65"/><rect x="518" y="183" width="2" height="87" fill-opacity="0.66"/><rect x="445" y="187" width="3" height="95" fill-opacity="0.43"/><rect x="1272" y="207" width="1" height="88" fill-opacity="0.68"/><rect x="1262" y="206" width="1" height="91" fill-opacity="0.52"/><rect x="1151" y="194" width="2" height="105" fill-opacity="0.50"/><rect x="1027" y="182" width="1" height="100" fill-opacity="0.68"/><rect x="717" y="208" width="2" height="53" fill-opacity="0.40"/><rect x="895" y="215" width="1" height="47" fill-opacity="0.56"/><rect x="897" y="187" width="2" height="110" fill-opacity="0.47"/><rect x="1171" y="187" width="1" height="82" fill-opacity="0.58"/><rect x="1430" y="189" width="1" height="93" fill-opacity="0.53"/><rect x="727" y="206" width="3" height="83" fill-opacity="0.60"/><rect x="1022" y="214" width="3" height="54" fill-opacity="0.64"/><rect x="276" y="210" width="2" height="88" fill-opacity="0.59"/><rect x="754" y="202" width="1" height="94" fill-opacity="0.50"/><rect x="447" y="201" width="3" height="91" fill-opacity="0.41"/><rect x="593" y="210" width="2" height="50" fill-opacity="0.45"/><rect x="1242" y="192" width="2" height="106" fill-opacity="0.64"/><rect x="881" y="212" width="2" height="63" fill-opacity="0.70"/><rect x="753" y="192" width="1" height="90" fill-opacity="0.51"/><rect x="914" y="319" width="2" height="21" fill-opacity="0.53"/><rect x="1264" y="320" width="2" height="18" fill-opacity="0.61"/><rect x="1411" y="324" width="1" height="20" fill-opacity="0.53"/><rect x="604" y="322" width="3" height="18" fill-opacity="0.43"/><rect x="901" y="327" width="2" height="12" fill-opacity="0.45"/><rect x="1242" y="327" width="2" height="12" fill-opacity="0.48"/><rect x="352" y="324" width="1" height="16" fill-opacity="0.55"/><rect x="562" y="320" width="1" height="16" fill-opacity="0.60"/><rect x="673" y="323" width="1" height="17" fill-opacity="0.51"/><rect x="1474" y="325" width="1" height="15" fill-opacity="0.51"/><rect x="1410" y="326" width="1" height="14" fill-opacity="0.52"/><rect x="746" y="318" width="1" height="25" fill-opacity="0.55"/><rect x="1401" y="322" width="2" height="16" fill-opacity="0.46"/><rect x="1240" y="319" width="1" height="24" fill-opacity="0.66"/><rect x="1245" y="323" width="2" height="21" fill-opacity="0.56"/><rect x="892" y="323" width="1" height="14" fill-opacity="0.47"/><rect x="519" y="325" width="1" height="20" fill-opacity="0.51"/><rect x="1192" y="320" width="3" height="16" fill-opacity="0.67"/><rect x="1176" y="324" width="3" height="15" fill-opacity="0.65"/><rect x="1022" y="325" width="2" height="12" fill-opacity="0.50"/><rect x="1364" y="320" width="3" height="23" fill-opacity="0.53"/><rect x="348" y="326" width="1" height="17" fill-opacity="0.49"/><rect x="802" y="322" width="3" height="22" fill-opacity="0.48"/><rect x="1363" y="320" width="2" height="21" fill-opacity="0.58"/><rect x="706" y="320" width="3" height="23" fill-opacity="0.60"/><rect x="1474" y="327" width="2" height="18" fill-opacity="0.65"/><rect x="338" y="322" width="3" height="20" fill-opacity="0.63"/><rect x="309" y="322" width="3" height="19" fill-opacity="0.54"/><rect x="1066" y="325" width="2" height="19" fill-opacity="0.61"/><rect x="1176" y="321" width="2" height="19" fill-opacity="0.58"/><rect x="1040" y="124" width="2" height="45" fill-opacity="0.55"/><rect x="809" y="128" width="1" height="38" fill-opacity="0.47"/><rect x="906" y="133" width="3" height="40" fill-opacity="0.69"/><rect x="905" y="130" width="3" height="44" fill-opacity="0.63"/><rect x="1423" y="129" width="2" height="36" fill-opacity="0.41"/><rect x="1270" y="127" width="2" height="47" fill-opacity="0.58"/><rect x="913" y="140" width="3" height="25" fill-opacity="0.49"/><rect x="490" y="128" width="1" height="41" fill-opacity="0.63"/><rect x="1149" y="137" width="3" height="37" fill-opacity="0.51"/><rect x="1178" y="137" width="2" height="35" fill-opacity="0.65"/><rect x="1486" y="124" width="1" height="53" fill-opacity="0.52"/><rect x="929" y="131" width="3" height="45" fill-opacity="0.46"/><rect x="1259" y="121" width="1" height="58" fill-opacity="0.44"/><rect x="1273" y="124" width="2" height="37" fill-opacity="0.67"/><rect x="1454" y="132" width="1" height="29" fill-opacity="0.62"/><rect x="1050" y="379" width="3" height="50" fill-opacity="0.61"/><rect x="301" y="352" width="2" height="82" fill-opacity="0.58"/><rect x="289" y="375" width="3" height="69" fill-opacity="0.69"/><rect x="1419" y="359" width="3" height="98" fill-opacity="0.58"/><rect x="1483" y="354" width="2" height="91" fill-opacity="0.41"/><rect x="460" y="346" width="1" height="86" fill-opacity="0.49"/><rect x="806" y="375" width="3" height="82" fill-opacity="0.61"/><rect x="1383" y="375" width="2" height="52" fill-opacity="0.51"/><rect x="1176" y="366" width="3" height="60" fill-opacity="0.51"/><rect x="776" y="375" width="3" height="73" fill-opacity="0.69"/><rect x="896" y="363" width="2" height="84" fill-opacity="0.61"/><rect x="1262" y="362" width="3" height="80" fill-opacity="0.44"/><rect x="1012" y="367" width="2" height="84" fill-opacity="0.49"/><rect x="485" y="361" width="2" height="69" fill-opacity="0.46"/><rect x="790" y="362" width="3" height="90" fill-opacity="0.43"/><rect x="725" y="348" width="1" height="79" fill-opacity="0.47"/><rect x="489" y="375" width="2" height="79" fill-opacity="0.60"/><rect x="1404" y="375" width="2" height="55" fill-opacity="0.60"/><rect x="823" y="363" width="2" height="94" fill-opacity="0.67"/><rect x="1448" y="347" width="3" height="102" fill-opacity="0.53"/><rect x="309" y="376" width="2" height="73" fill-opacity="0.68"/><rect x="827" y="345" width="1" height="96" fill-opacity="0.57"/><rect x="1036" y="379" width="2" height="48" fill-opacity="0.55"/><rect x="1267" y="362" width="2" height="86" fill-opacity="0.64"/><rect x="1256" y="345" width="1" height="94" fill-opacity="0.64"/><rect x="630" y="662" width="1" height="25" fill-opacity="0.55"/><rect x="474" y="665" width="1" height="25" fill-opacity="0.68"/><rect x="1161" y="658" width="2" height="32" fill-opacity="0.49"/><rect x="258" y="661" width="2" height="32" fill-opacity="0.42"/><rect x="892" y="666" width="2" height="25" fill-opacity="0.61"/><rect x="839" y="657" width="2" height="36" fill-opacity="0.69"/><rect x="1278" y="663" width="2" height="22" fill-opacity="0.63"/><rect x="682" y="652" width="1" height="32" fill-opacity="0.53"/><rect x="394" y="653" width="3" height="46" fill-opacity="0.65"/><rect x="649" y="654" width="3" height="41" fill-opacity="0.50"/><rect x="473" y="665" width="1" height="33" fill-opacity="0.67"/><rect x="307" y="666" width="1" height="21" fill-opacity="0.54"/><rect x="1259" y="662" width="1" height="30" fill-opacity="0.64"/><rect x="1419" y="651" width="1" height="36" fill-opacity="0.50"/><rect x="337" y="665" width="1" height="34" fill-opacity="0.49"/><path d="M1156,317L1168,306L1174,298L1180,298L1186,306L1196,317Z" fill-opacity="0.85"/><path d="M1172,321L1258,339" stroke="#000" stroke-width="4" stroke-opacity="0.35" fill="none"/><path d="M540,318L560,324L600,322L640,318" stroke="#000" stroke-width="4" stroke-opacity="0.5" fill="none"/></g>
<filter id="spf2" filterUnits="userSpaceOnUse" primitiveUnits="userSpaceOnUse" x="235" y="745" width="1267" height="146" color-interpolation-filters="sRGB"><feFlood flood-color="rgb(128,128,0)" x="235" y="745" width="4" height="1" result="d0"/><feFlood flood-color="rgb(128,112,0)" x="235" y="746" width="4" height="1" result="d1"/><feFlood flood-color="rgb(128,96,0)" x="235" y="747" width="4" height="1" result="d2"/><feFlood flood-color="rgb(128,80,0)" x="235" y="748" width="4" height="1" result="d3"/><feFlood flood-color="rgb(128,128,0)" x="235" y="749" width="4" height="1" result="d4"/><feFlood flood-color="rgb(128,112,0)" x="235" y="750" width="4" height="1" result="d5"/><feFlood flood-color="rgb(128,96,0)" x="235" y="751" width="4" height="1" result="d6"/><feFlood flood-color="rgb(128,80,0)" x="235" y="752" width="4" height="1" result="d7"/><feFlood flood-color="rgb(128,64,0)" x="235" y="753" width="4" height="1" result="d8"/><feFlood flood-color="rgb(128,128,0)" x="235" y="754" width="4" height="1" result="d9"/><feFlood flood-color="rgb(128,112,0)" x="235" y="755" width="4" height="1" result="d10"/><feFlood flood-color="rgb(128,96,0)" x="235" y="756" width="4" height="1" result="d11"/><feFlood flood-color="rgb(128,80,0)" x="235" y="757" width="4" height="1" result="d12"/><feFlood flood-color="rgb(128,128,0)" x="235" y="758" width="4" height="1" result="d13"/><feFlood flood-color="rgb(128,112,0)" x="235" y="759" width="4" height="1" result="d14"/><feFlood flood-color="rgb(128,96,0)" x="235" y="760" width="4" height="1" result="d15"/><feFlood flood-color="rgb(128,80,0)" x="235" y="761" width="4" height="1" result="d16"/><feFlood flood-color="rgb(128,64,0)" x="235" y="762" width="4" height="1" result="d17"/><feFlood flood-color="rgb(128,48,0)" x="235" y="763" width="4" height="1" result="d18"/><feFlood flood-color="rgb(128,128,0)" x="235" y="764" width="4" height="1" result="d19"/><feFlood flood-color="rgb(128,112,0)" x="235" y="765" width="4" height="1" result="d20"/><feFlood flood-color="rgb(128,96,0)" x="235" y="766" width="4" height="1" result="d21"/><feFlood flood-color="rgb(128,80,0)" x="235" y="767" width="4" height="1" result="d22"/><feFlood flood-color="rgb(128,128,0)" x="235" y="768" width="4" height="1" result="d23"/><feFlood flood-color="rgb(128,112,0)" x="235" y="769" width="4" height="1" result="d24"/><feFlood flood-color="rgb(128,96,0)" x="235" y="770" width="4" height="1" result="d25"/><feFlood flood-color="rgb(128,80,0)" x="235" y="771" width="4" height="1" result="d26"/><feFlood flood-color="rgb(128,64,0)" x="235" y="772" width="4" height="1" result="d27"/><feFlood flood-color="rgb(128,128,0)" x="235" y="773" width="4" height="1" result="d28"/><feFlood flood-color="rgb(128,112,0)" x="235" y="774" width="4" height="1" result="d29"/><feFlood flood-color="rgb(128,96,0)" x="235" y="775" width="4" height="1" result="d30"/><feFlood flood-color="rgb(128,80,0)" x="235" y="776" width="4" height="1" result="d31"/><feFlood flood-color="rgb(128,128,0)" x="235" y="777" width="4" height="1" result="d32"/><feFlood flood-color="rgb(128,112,0)" x="235" y="778" width="4" height="1" result="d33"/><feFlood flood-color="rgb(128,96,0)" x="235" y="779" width="4" height="1" result="d34"/><feFlood flood-color="rgb(128,80,0)" x="235" y="780" width="4" height="1" result="d35"/><feFlood flood-color="rgb(128,128,0)" x="235" y="781" width="4" height="1" result="d36"/><feFlood flood-color="rgb(128,112,0)" x="235" y="782" width="4" height="1" result="d37"/><feFlood flood-color="rgb(128,96,0)" x="235" y="783" width="4" height="1" result="d38"/><feFlood flood-color="rgb(128,80,0)" x="235" y="784" width="4" height="1" result="d39"/><feFlood flood-color="rgb(128,64,0)" x="235" y="785" width="4" height="1" result="d40"/><feFlood flood-color="rgb(128,128,0)" x="235" y="786" width="4" height="1" result="d41"/><feFlood flood-color="rgb(128,112,0)" x="235" y="787" width="4" height="1" result="d42"/><feFlood flood-color="rgb(128,96,0)" x="235" y="788" width="4" height="1" result="d43"/><feFlood flood-color="rgb(128,80,0)" x="235" y="789" width="4" height="1" result="d44"/><feFlood flood-color="rgb(128,64,0)" x="235" y="790" width="4" height="1" result="d45"/><feFlood flood-color="rgb(128,48,0)" x="235" y="791" width="4" height="1" result="d46"/><feFlood flood-color="rgb(128,128,0)" x="235" y="792" width="4" height="1" result="d47"/><feFlood flood-color="rgb(128,112,0)" x="235" y="793" width="4" height="1" result="d48"/><feFlood flood-color="rgb(128,96,0)" x="235" y="794" width="4" height="1" result="d49"/><feFlood flood-color="rgb(128,80,0)" x="235" y="795" width="4" height="1" result="d50"/><feFlood flood-color="rgb(128,128,0)" x="235" y="796" width="4" height="1" result="d51"/><feFlood flood-color="rgb(128,112,0)" x="235" y="797" width="4" height="1" result="d52"/><feFlood flood-color="rgb(128,96,0)" x="235" y="798" width="4" height="1" result="d53"/><feFlood flood-color="rgb(128,80,0)" x="235" y="799" width="4" height="1" result="d54"/><feFlood flood-color="rgb(128,128,0)" x="235" y="800" width="4" height="1" result="d55"/><feFlood flood-color="rgb(128,112,0)" x="235" y="801" width="4" height="1" result="d56"/><feFlood flood-color="rgb(128,96,0)" x="235" y="802" width="4" height="1" result="d57"/><feFlood flood-color="rgb(128,80,0)" x="235" y="803" width="4" height="1" result="d58"/><feFlood flood-color="rgb(128,64,0)" x="235" y="804" width="4" height="1" result="d59"/><feFlood flood-color="rgb(128,128,0)" x="235" y="805" width="4" height="1" result="d60"/><feFlood flood-color="rgb(128,112,0)" x="235" y="806" width="4" height="1" result="d61"/><feFlood flood-color="rgb(128,96,0)" x="235" y="807" width="4" height="1" result="d62"/><feFlood flood-color="rgb(128,80,0)" x="235" y="808" width="4" height="1" result="d63"/><feFlood flood-color="rgb(128,128,0)" x="235" y="809" width="4" height="1" result="d64"/><feFlood flood-color="rgb(128,112,0)" x="235" y="810" width="4" height="1" result="d65"/><feFlood flood-color="rgb(128,96,0)" x="235" y="811" width="4" height="1" result="d66"/><feFlood flood-color="rgb(128,80,0)" x="235" y="812" width="4" height="1" result="d67"/><feFlood flood-color="rgb(128,64,0)" x="235" y="813" width="4" height="1" result="d68"/><feFlood flood-color="rgb(128,48,0)" x="235" y="814" width="4" height="1" result="d69"/><feFlood flood-color="rgb(128,128,0)" x="235" y="815" width="4" height="1" result="d70"/><feFlood flood-color="rgb(128,112,0)" x="235" y="816" width="4" height="1" result="d71"/><feFlood flood-color="rgb(128,96,0)" x="235" y="817" width="4" height="1" result="d72"/><feFlood flood-color="rgb(128,80,0)" x="235" y="818" width="4" height="1" result="d73"/><feMerge x="235" y="745" width="4" height="74" result="tile"><feMergeNode in="d0"/><feMergeNode in="d1"/><feMergeNode in="d2"/><feMergeNode in="d3"/><feMergeNode in="d4"/><feMergeNode in="d5"/><feMergeNode in="d6"/><feMergeNode in="d7"/><feMergeNode in="d8"/><feMergeNode in="d9"/><feMergeNode in="d10"/><feMergeNode in="d11"/><feMergeNode in="d12"/><feMergeNode in="d13"/><feMergeNode in="d14"/><feMergeNode in="d15"/><feMergeNode in="d16"/><feMergeNode in="d17"/><feMergeNode in="d18"/><feMergeNode in="d19"/><feMergeNode in="d20"/><feMergeNode in="d21"/><feMergeNode in="d22"/><feMergeNode in="d23"/><feMergeNode in="d24"/><feMergeNode in="d25"/><feMergeNode in="d26"/><feMergeNode in="d27"/><feMergeNode in="d28"/><feMergeNode in="d29"/><feMergeNode in="d30"/><feMergeNode in="d31"/><feMergeNode in="d32"/><feMergeNode in="d33"/><feMergeNode in="d34"/><feMergeNode in="d35"/><feMergeNode in="d36"/><feMergeNode in="d37"/><feMergeNode in="d38"/><feMergeNode in="d39"/><feMergeNode in="d40"/><feMergeNode in="d41"/><feMergeNode in="d42"/><feMergeNode in="d43"/><feMergeNode in="d44"/><feMergeNode in="d45"/><feMergeNode in="d46"/><feMergeNode in="d47"/><feMergeNode in="d48"/><feMergeNode in="d49"/><feMergeNode in="d50"/><feMergeNode in="d51"/><feMergeNode in="d52"/><feMergeNode in="d53"/><feMergeNode in="d54"/><feMergeNode in="d55"/><feMergeNode in="d56"/><feMergeNode in="d57"/><feMergeNode in="d58"/><feMergeNode in="d59"/><feMergeNode in="d60"/><feMergeNode in="d61"/><feMergeNode in="d62"/><feMergeNode in="d63"/><feMergeNode in="d64"/><feMergeNode in="d65"/><feMergeNode in="d66"/><feMergeNode in="d67"/><feMergeNode in="d68"/><feMergeNode in="d69"/><feMergeNode in="d70"/><feMergeNode in="d71"/><feMergeNode in="d72"/><feMergeNode in="d73"/></feMerge><feTile in="tile" x="235" y="745" width="1267" height="146" result="dmap"/><feTurbulence type="fractalNoise" baseFrequency="0.45 0.23" numOctaves="2" seed="7" result="t1"/><feColorMatrix in="t1" type="matrix" values="1 0 0 0 0 1 0 0 0 0 1 0 0 0 0 0 0 0 0 1" result="t1g"/><feDisplacementMap in="t1g" in2="dmap" scale="16" xChannelSelector="R" yChannelSelector="G" result="nr"/><feTurbulence type="fractalNoise" baseFrequency="0.6 0.03" numOctaves="2" seed="11" result="t2"/><feColorMatrix in="t2" type="matrix" values="1 0 0 0 0 1 0 0 0 0 1 0 0 0 0 0 0 0 0 1" result="ns"/><feTurbulence type="fractalNoise" baseFrequency="0.004 0.3" numOctaves="1" seed="5" result="t3"/><feColorMatrix in="t3" type="matrix" values="1 0 0 0 0 1 0 0 0 0 1 0 0 0 0 0 0 0 0 1" result="t3g"/><feDisplacementMap in="t3g" in2="dmap" scale="16" xChannelSelector="R" yChannelSelector="G" result="nc"/><feComposite in="nr" in2="ns" operator="arithmetic" k1="0" k2="0.7" k3="0.65" k4="-0.1750" result="N1"/><feComposite in="N1" in2="nc" operator="arithmetic" k1="0" k2="1" k3="0.35" k4="-0.1750" result="N"/><feColorMatrix in="SourceGraphic" type="matrix" values="0.5 -0.5 0 0 0.5 0.5 -0.5 0 0 0.5 0.5 -0.5 0 0 0.5 0 0 0 0 1" result="Sw"/><feColorMatrix in="SourceGraphic" type="matrix" values="0 1 0 0 0 0 1 0 0 0 0 1 0 0 0 0 0 0 0 1" result="Av"/><feComposite in="Av" in2="N" operator="arithmetic" k1="1" k2="0" k3="0" k4="0" result="u"/><feComposite in="Sw" in2="u" operator="arithmetic" k1="0" k2="2" k3="2" k4="-1" result="v"/><feComponentTransfer in="v"><feFuncR type="discrete" tableValues="0 0 0 0 0 0 0 0 0 0 0 0 0 0 0 0 0 0 0 0 0 0 0 0 0 0 0 0 0 0 0 0 0 0.176 0.176 0.176 0.176 0.176 0.176 0.176 0.314 0.314 0.314 0.314 0.314 0.314 0.431 0.431 0.431 0.431 0.431 0.431 0.549 0.549 0.549 0.549 0.549 0.686 0.686 0.686 0.686 0.686 0.863 0.863 0.863 0.863 0.863 0.863 1 1 1 1 1 1 1 1 1 1 1 1 1 1 1 1 1 1 1 1 1 1 1 1 1 1 1 1 1 1 1 1"/><feFuncG type="discrete" tableValues="0 0 0 0 0 0 0 0 0 0 0 0 0 0 0 0 0 0 0 0 0 0 0 0 0 0 0 0 0 0 0 0 0 0 0 0 0 0 0 0 0 0 0 0 0 0 0 0 0 0 0 0 0 0 0 0 0 0 0 0 0 0 0 0 0 0 0 0 0.196 0.196 0.196 0.196 0.196 0.196 0.471 0.471 0.471 0.471 0.471 0.471 0.647 0.647 0.647 0.647 0.647 0.647 0.784 0.784 0.784 0.784 0.784 0.784 0.784 0.882 0.882 0.882 0.882 0.882 0.882 0.882"/><feFuncB type="discrete" tableValues="0 0 0 0 0.176 0.176 0.176 0.176 0.392 0.392 0.392 0.392 0.392 0.392 0.667 0.667 0.667 0.667 0.667 0.667 0.667 1 1 1 1 1 1 1 1 1 1 1 1 0.902 0.902 0.902 0.902 0.902 0.902 0.902 0.725 0.725 0.725 0.725 0.725 0.725 0.529 0.529 0.529 0.529 0.529 0.529 0.314 0.314 0.314 0.314 0.314 0.137 0.137 0.137 0.137 0.137 0 0 0 0 0 0 0 0 0 0 0 0 0.078 0.078 0.078 0.078 0.078 0.078 0.216 0.216 0.216 0.216 0.216 0.216 0.392 0.392 0.392 0.392 0.392 0.392 0.392 0.549 0.549 0.549 0.549 0.549 0.549 0.549"/><feFuncA type="linear" slope="0" intercept="1"/></feComponentTransfer></filter><g filter="url(#spf2)" shape-rendering="crispEdges"><rect x="235" y="745" width="1267" height="146" fill="#536000"/><rect x="235" y="745" width="53" height="5" fill="#648c00"/><rect x="288" y="745" width="42" height="5" fill="#558c00"/><rect x="330" y="745" width="143" height="5" fill="#648c00"/><rect x="473" y="745" width="29" height="5" fill="#558c00"/><rect x="502" y="745" width="177" height="5" fill="#648c00"/><rect x="679" y="745" width="28" height="5" fill="#558c00"/><rect x="707" y="745" width="83" height="5" fill="#648c00"/><rect x="790" y="745" width="20" height="5" fill="#558c00"/><rect x="810" y="745" width="82" height="5" fill="#648c00"/><rect x="892" y="745" width="24" height="5" fill="#558c00"/><rect x="916" y="745" width="112" height="5" fill="#648c00"/><rect x="1028" y="745" width="12" height="5" fill="#558c00"/><rect x="1040" y="745" width="116" height="5" fill="#648c00"/><rect x="1156" y="745" width="24" height="5" fill="#558c00"/><rect x="1180" y="745" width="70" height="5" fill="#648c00"/><rect x="1250" y="745" width="20" height="5" fill="#558c00"/><rect x="1270" y="745" width="134" height="5" fill="#648c00"/><rect x="1404" y="745" width="16" height="5" fill="#558c00"/><rect x="1420" y="745" width="24" height="5" fill="#648c00"/><rect x="1444" y="745" width="40" height="5" fill="#558c00"/><rect x="1484" y="745" width="18" height="5" fill="#648c00"/><rect x="235" y="750" width="53" height="25" fill="#649f00"/><rect x="288" y="750" width="42" height="25" fill="#559f00"/><rect x="330" y="750" width="143" height="25" fill="#649f00"/><rect x="473" y="750" width="29" height="25" fill="#559f00"/><rect x="502" y="750" width="177" height="25" fill="#649f00"/><rect x="679" y="750" width="28" height="25" fill="#559f00"/><rect x="707" y="750" width="83" height="25" fill="#649f00"/><rect x="790" y="750" width="20" height="25" fill="#559f00"/><rect x="810" y="750" width="82" height="25" fill="#649f00"/><rect x="892" y="750" width="24" height="25" fill="#559f00"/><rect x="916" y="750" width="112" height="25" fill="#649f00"/><rect x="1028" y="750" width="12" height="25" fill="#559f00"/><rect x="1040" y="750" width="116" height="25" fill="#649f00"/><rect x="1156" y="750" width="24" height="25" fill="#559f00"/><rect x="1180" y="750" width="70" height="25" fill="#649f00"/><rect x="1250" y="750" width="20" height="25" fill="#559f00"/><rect x="1270" y="750" width="134" height="25" fill="#649f00"/><rect x="1404" y="750" width="16" height="25" fill="#559f00"/><rect x="1420" y="750" width="24" height="25" fill="#649f00"/><rect x="1444" y="750" width="40" height="25" fill="#559f00"/><rect x="1484" y="750" width="18" height="25" fill="#649f00"/><rect x="235" y="775" width="53" height="7" fill="#5c7300"/><rect x="288" y="775" width="42" height="7" fill="#4d7300"/><rect x="330" y="775" width="143" height="7" fill="#5c7300"/><rect x="473" y="775" width="29" height="7" fill="#4d7300"/><rect x="502" y="775" width="177" height="7" fill="#5c7300"/><rect x="679" y="775" width="28" height="7" fill="#4d7300"/><rect x="707" y="775" width="83" height="7" fill="#5c7300"/><rect x="790" y="775" width="20" height="7" fill="#4d7300"/><rect x="810" y="775" width="82" height="7" fill="#5c7300"/><rect x="892" y="775" width="24" height="7" fill="#4d7300"/><rect x="916" y="775" width="112" height="7" fill="#5c7300"/><rect x="1028" y="775" width="12" height="7" fill="#4d7300"/><rect x="1040" y="775" width="116" height="7" fill="#5c7300"/><rect x="1156" y="775" width="24" height="7" fill="#4d7300"/><rect x="1180" y="775" width="70" height="7" fill="#5c7300"/><rect x="1250" y="775" width="20" height="7" fill="#4d7300"/><rect x="1270" y="775" width="134" height="7" fill="#5c7300"/><rect x="1404" y="775" width="16" height="7" fill="#4d7300"/><rect x="1420" y="775" width="24" height="7" fill="#5c7300"/><rect x="1444" y="775" width="40" height="7" fill="#4d7300"/><rect x="1484" y="775" width="18" height="7" fill="#5c7300"/><rect x="235" y="782" width="53" height="4" fill="#618c00"/><rect x="502" y="782" width="177" height="4" fill="#618c00"/><rect x="679" y="782" width="28" height="4" fill="#528c00"/><rect x="790" y="782" width="20" height="4" fill="#528c00"/><rect x="810" y="782" width="82" height="4" fill="#618c00"/><rect x="892" y="782" width="24" height="4" fill="#528c00"/><rect x="916" y="782" width="112" height="4" fill="#618c00"/><rect x="1156" y="782" width="24" height="4" fill="#528c00"/><rect x="1270" y="782" width="134" height="4" fill="#618c00"/><rect x="1404" y="782" width="16" height="4" fill="#528c00"/><rect x="1420" y="782" width="24" height="4" fill="#618c00"/><rect x="1444" y="782" width="40" height="4" fill="#528c00"/><rect x="235" y="786" width="35" height="4" fill="#618c00"/><rect x="330" y="782" width="143" height="8" fill="#618c00"/><rect x="473" y="782" width="29" height="8" fill="#528c00"/><rect x="502" y="786" width="175" height="4" fill="#618c00"/><rect x="707" y="782" width="83" height="8" fill="#618c00"/><rect x="791" y="786" width="16" height="4" fill="#788c00"/><rect x="807" y="786" width="3" height="4" fill="#528c00"/><rect x="810" y="786" width="53" height="4" fill="#618c00"/><rect x="863" y="786" width="29" height="4" fill="#948c00"/><rect x="916" y="786" width="79" height="4" fill="#618c00"/><rect x="995" y="786" width="11" height="4" fill="#808c00"/><rect x="1006" y="786" width="22" height="4" fill="#618c00"/><rect x="1028" y="782" width="12" height="8" fill="#528c00"/><rect x="1040" y="782" width="116" height="8" fill="#618c00"/><rect x="1270" y="786" width="132" height="4" fill="#618c00"/><rect x="235" y="790" width="16" height="18" fill="#618c00"/><rect x="251" y="790" width="18" height="18" fill="#298c00"/><rect x="269" y="790" width="1" height="18" fill="#618c00"/><rect x="330" y="790" width="139" height="18" fill="#618c00"/><rect x="469" y="790" width="4" height="18" fill="#298c00"/><rect x="473" y="790" width="5" height="18" fill="#1a8c00"/><rect x="478" y="790" width="24" height="18" fill="#528c00"/><rect x="502" y="790" width="136" height="18" fill="#618c00"/><rect x="638" y="790" width="12" height="18" fill="#298c00"/><rect x="650" y="790" width="27" height="18" fill="#618c00"/><rect x="707" y="790" width="21" height="18" fill="#618c00"/><rect x="728" y="790" width="15" height="18" fill="#298c00"/><rect x="743" y="790" width="47" height="18" fill="#618c00"/><rect x="791" y="790" width="15" height="18" fill="#788c00"/><rect x="806" y="790" width="1" height="18" fill="#408c00"/><rect x="807" y="790" width="3" height="18" fill="#1a8c00"/><rect x="810" y="790" width="26" height="18" fill="#298c00"/><rect x="836" y="790" width="21" height="18" fill="#618c00"/><rect x="857" y="790" width="6" height="18" fill="#298c00"/><rect x="863" y="790" width="5" height="18" fill="#5c8c00"/><rect x="868" y="790" width="24" height="18" fill="#948c00"/><rect x="916" y="790" width="16" height="18" fill="#618c00"/><rect x="932" y="790" width="10" height="18" fill="#298c00"/><rect x="942" y="790" width="53" height="18" fill="#618c00"/><rect x="995" y="790" width="9" height="18" fill="#808c00"/><rect x="1004" y="790" width="2" height="18" fill="#488c00"/><rect x="1006" y="790" width="22" height="18" fill="#298c00"/><rect x="1028" y="790" width="12" height="18" fill="#1a8c00"/><rect x="1040" y="790" width="25" height="18" fill="#298c00"/><rect x="1065" y="790" width="37" height="18" fill="#618c00"/><rect x="1102" y="790" width="33" height="18" fill="#298c00"/><rect x="1135" y="790" width="21" height="18" fill="#618c00"/><rect x="1270" y="790" width="30" height="18" fill="#618c00"/><rect x="1300" y="790" width="16" height="18" fill="#298c00"/><rect x="1316" y="790" width="86" height="18" fill="#618c00"/><rect x="235" y="808" width="35" height="2" fill="#618c00"/><rect x="270" y="786" width="12" height="24" fill="#888c00"/><rect x="282" y="786" width="6" height="24" fill="#618c00"/><rect x="502" y="808" width="175" height="2" fill="#618c00"/><rect x="677" y="786" width="2" height="24" fill="#888c00"/><rect x="679" y="786" width="24" height="24" fill="#788c00"/><rect x="703" y="786" width="4" height="24" fill="#528c00"/><rect x="790" y="786" width="1" height="24" fill="#528c00"/><rect x="791" y="808" width="16" height="2" fill="#788c00"/><rect x="807" y="808" width="3" height="2" fill="#528c00"/><rect x="810" y="808" width="53" height="2" fill="#618c00"/><rect x="863" y="808" width="29" height="2" fill="#948c00"/><rect x="892" y="786" width="24" height="24" fill="#858c00"/><rect x="916" y="808" width="79" height="2" fill="#618c00"/><rect x="995" y="808" width="11" height="2" fill="#808c00"/><rect x="1006" y="808" width="22" height="2" fill="#618c00"/><rect x="1156" y="786" width="16" height="24" fill="#788c00"/><rect x="1172" y="786" width="8" height="24" fill="#528c00"/><rect x="1270" y="808" width="132" height="2" fill="#618c00"/><rect x="1402" y="786" width="2" height="24" fill="#948c00"/><rect x="1404" y="786" width="16" height="24" fill="#858c00"/><rect x="1420" y="786" width="24" height="24" fill="#948c00"/><rect x="1444" y="786" width="32" height="24" fill="#858c00"/><rect x="1476" y="786" width="8" height="24" fill="#528c00"/><rect x="235" y="810" width="53" height="2" fill="#618c00"/><rect x="288" y="782" width="42" height="30" fill="#528c00"/><rect x="330" y="808" width="143" height="4" fill="#618c00"/><rect x="473" y="808" width="29" height="4" fill="#528c00"/><rect x="502" y="810" width="177" height="2" fill="#618c00"/><rect x="679" y="810" width="28" height="2" fill="#528c00"/><rect x="707" y="808" width="83" height="4" fill="#618c00"/><rect x="790" y="810" width="20" height="2" fill="#528c00"/><rect x="810" y="810" width="82" height="2" fill="#618c00"/><rect x="892" y="810" width="24" height="2" fill="#528c00"/><rect x="916" y="810" width="112" height="2" fill="#618c00"/><rect x="1028" y="808" width="12" height="4" fill="#528c00"/><rect x="1040" y="808" width="116" height="4" fill="#618c00"/><rect x="1156" y="810" width="24" height="2" fill="#528c00"/><rect x="1180" y="782" width="70" height="30" fill="#618c00"/><rect x="1250" y="782" width="20" height="30" fill="#528c00"/><rect x="1270" y="810" width="134" height="2" fill="#618c00"/><rect x="1404" y="810" width="16" height="2" fill="#528c00"/><rect x="1420" y="810" width="24" height="2" fill="#618c00"/><rect x="1444" y="810" width="40" height="2" fill="#528c00"/><rect x="1484" y="782" width="18" height="30" fill="#618c00"/><rect x="235" y="812" width="53" height="6" fill="#67cc00"/><rect x="288" y="812" width="42" height="6" fill="#57cc00"/><rect x="330" y="812" width="143" height="6" fill="#67cc00"/><rect x="473" y="812" width="29" height="6" fill="#57cc00"/><rect x="502" y="812" width="177" height="6" fill="#67cc00"/><rect x="679" y="812" width="28" height="6" fill="#57cc00"/><rect x="707" y="812" width="83" height="6" fill="#67cc00"/><rect x="790" y="812" width="20" height="6" fill="#57cc00"/><rect x="810" y="812" width="82" height="6" fill="#67cc00"/><rect x="892" y="812" width="24" height="6" fill="#57cc00"/><rect x="916" y="812" width="112" height="6" fill="#67cc00"/><rect x="1028" y="812" width="12" height="6" fill="#57cc00"/><rect x="1040" y="812" width="116" height="6" fill="#67cc00"/><rect x="1156" y="812" width="24" height="6" fill="#57cc00"/><rect x="1180" y="812" width="70" height="6" fill="#67cc00"/><rect x="1250" y="812" width="20" height="6" fill="#57cc00"/><rect x="1270" y="812" width="134" height="6" fill="#67cc00"/><rect x="1404" y="812" width="16" height="6" fill="#57cc00"/><rect x="1420" y="812" width="24" height="6" fill="#67cc00"/><rect x="1444" y="812" width="40" height="6" fill="#57cc00"/><rect x="1484" y="812" width="18" height="6" fill="#67cc00"/><rect x="235" y="818" width="53" height="3" fill="#5c6000"/><rect x="288" y="818" width="42" height="3" fill="#4d6000"/><rect x="330" y="818" width="143" height="3" fill="#5c6000"/><rect x="473" y="818" width="29" height="3" fill="#4d6000"/><rect x="502" y="818" width="177" height="3" fill="#5c6000"/><rect x="679" y="818" width="28" height="3" fill="#4d6000"/><rect x="707" y="818" width="83" height="3" fill="#5c6000"/><rect x="790" y="818" width="20" height="3" fill="#4d6000"/><rect x="810" y="818" width="82" height="3" fill="#5c6000"/><rect x="892" y="818" width="24" height="3" fill="#4d6000"/><rect x="916" y="818" width="112" height="3" fill="#5c6000"/><rect x="1028" y="818" width="12" height="3" fill="#4d6000"/><rect x="1040" y="818" width="116" height="3" fill="#5c6000"/><rect x="1156" y="818" width="24" height="3" fill="#4d6000"/><rect x="1180" y="818" width="70" height="3" fill="#5c6000"/><rect x="1250" y="818" width="20" height="3" fill="#4d6000"/><rect x="1270" y="818" width="134" height="3" fill="#5c6000"/><rect x="1404" y="818" width="16" height="3" fill="#4d6000"/><rect x="1420" y="818" width="24" height="3" fill="#5c6000"/><rect x="1444" y="818" width="40" height="3" fill="#4d6000"/><rect x="1484" y="818" width="18" height="3" fill="#5c6000"/><rect x="235" y="821" width="53" height="3" fill="#618c00"/><rect x="288" y="821" width="42" height="3" fill="#528c00"/><rect x="330" y="821" width="143" height="3" fill="#618c00"/><rect x="473" y="821" width="29" height="3" fill="#528c00"/><rect x="502" y="821" width="177" height="3" fill="#618c00"/><rect x="679" y="821" width="28" height="3" fill="#528c00"/><rect x="707" y="821" width="83" height="3" fill="#618c00"/><rect x="790" y="821" width="20" height="3" fill="#528c00"/><rect x="810" y="821" width="82" height="3" fill="#618c00"/><rect x="892" y="821" width="24" height="3" fill="#528c00"/><rect x="916" y="821" width="112" height="3" fill="#618c00"/><rect x="1028" y="821" width="12" height="3" fill="#528c00"/><rect x="1040" y="821" width="116" height="3" fill="#618c00"/><rect x="1156" y="821" width="24" height="3" fill="#528c00"/><rect x="1180" y="821" width="70" height="3" fill="#618c00"/><rect x="1250" y="821" width="20" height="3" fill="#528c00"/><rect x="1270" y="821" width="134" height="3" fill="#618c00"/><rect x="1404" y="821" width="16" height="3" fill="#528c00"/><rect x="1420" y="821" width="24" height="3" fill="#618c00"/><rect x="1444" y="821" width="40" height="3" fill="#528c00"/><rect x="1484" y="821" width="18" height="3" fill="#618c00"/><rect x="235" y="824" width="53" height="2" fill="#5c6000"/><rect x="288" y="824" width="42" height="2" fill="#4d6000"/><rect x="330" y="824" width="143" height="2" fill="#5c6000"/><rect x="473" y="824" width="29" height="2" fill="#4d6000"/><rect x="502" y="824" width="177" height="2" fill="#5c6000"/><rect x="679" y="824" width="28" height="2" fill="#4d6000"/><rect x="707" y="824" width="83" height="2" fill="#5c6000"/><rect x="790" y="824" width="20" height="2" fill="#4d6000"/><rect x="810" y="824" width="82" height="2" fill="#5c6000"/><rect x="892" y="824" width="24" height="2" fill="#4d6000"/><rect x="916" y="824" width="112" height="2" fill="#5c6000"/><rect x="1028" y="824" width="12" height="2" fill="#4d6000"/><rect x="1040" y="824" width="116" height="2" fill="#5c6000"/><rect x="1156" y="824" width="24" height="2" fill="#4d6000"/><rect x="1180" y="824" width="70" height="2" fill="#5c6000"/><rect x="1250" y="824" width="20" height="2" fill="#4d6000"/><rect x="1270" y="824" width="134" height="2" fill="#5c6000"/><rect x="1404" y="824" width="16" height="2" fill="#4d6000"/><rect x="1420" y="824" width="24" height="2" fill="#5c6000"/><rect x="1444" y="824" width="40" height="2" fill="#4d6000"/><rect x="1484" y="824" width="18" height="2" fill="#5c6000"/><rect x="235" y="826" width="53" height="6" fill="#67a600"/><rect x="288" y="826" width="42" height="6" fill="#57a600"/><rect x="330" y="826" width="143" height="6" fill="#67a600"/><rect x="473" y="826" width="29" height="6" fill="#57a600"/><rect x="502" y="826" width="177" height="6" fill="#67a600"/><rect x="679" y="826" width="28" height="6" fill="#57a600"/><rect x="707" y="826" width="83" height="6" fill="#67a600"/><rect x="790" y="826" width="20" height="6" fill="#57a600"/><rect x="810" y="826" width="82" height="6" fill="#67a600"/><rect x="892" y="826" width="24" height="6" fill="#57a600"/><rect x="916" y="826" width="112" height="6" fill="#67a600"/><rect x="1028" y="826" width="12" height="6" fill="#57a600"/><rect x="1040" y="826" width="116" height="6" fill="#67a600"/><rect x="1156" y="826" width="24" height="6" fill="#57a600"/><rect x="1180" y="826" width="70" height="6" fill="#67a600"/><rect x="1250" y="826" width="20" height="6" fill="#57a600"/><rect x="1270" y="826" width="134" height="6" fill="#67a600"/><rect x="1404" y="826" width="16" height="6" fill="#57a600"/><rect x="1420" y="826" width="24" height="6" fill="#67a600"/><rect x="1444" y="826" width="40" height="6" fill="#57a600"/><rect x="1484" y="826" width="18" height="6" fill="#67a600"/><rect x="235" y="832" width="53" height="8" fill="#5c6000"/><rect x="288" y="832" width="42" height="8" fill="#4d6000"/><rect x="330" y="832" width="143" height="8" fill="#5c6000"/><rect x="473" y="832" width="29" height="8" fill="#4d6000"/><rect x="502" y="832" width="177" height="8" fill="#5c6000"/><rect x="679" y="832" width="28" height="8" fill="#4d6000"/><rect x="707" y="832" width="83" height="8" fill="#5c6000"/><rect x="790" y="832" width="20" height="8" fill="#4d6000"/><rect x="810" y="832" width="82" height="8" fill="#5c6000"/><rect x="892" y="832" width="24" height="8" fill="#4d6000"/><rect x="916" y="832" width="112" height="8" fill="#5c6000"/><rect x="1028" y="832" width="12" height="8" fill="#4d6000"/><rect x="1040" y="832" width="116" height="8" fill="#5c6000"/><rect x="1156" y="832" width="24" height="8" fill="#4d6000"/><rect x="1180" y="832" width="70" height="8" fill="#5c6000"/><rect x="1250" y="832" width="20" height="8" fill="#4d6000"/><rect x="1270" y="832" width="134" height="8" fill="#5c6000"/><rect x="1404" y="832" width="16" height="8" fill="#4d6000"/><rect x="1420" y="832" width="24" height="8" fill="#5c6000"/><rect x="1444" y="832" width="40" height="8" fill="#4d6000"/><rect x="1484" y="832" width="18" height="8" fill="#5c6000"/><rect x="235" y="840" width="53" height="5" fill="#61cc00"/><rect x="288" y="840" width="42" height="5" fill="#52cc00"/><rect x="330" y="840" width="143" height="5" fill="#61cc00"/><rect x="473" y="840" width="29" height="5" fill="#52cc00"/><rect x="502" y="840" width="177" height="5" fill="#61cc00"/><rect x="679" y="840" width="28" height="5" fill="#52cc00"/><rect x="707" y="840" width="83" height="5" fill="#61cc00"/><rect x="790" y="840" width="20" height="5" fill="#52cc00"/><rect x="810" y="840" width="82" height="5" fill="#61cc00"/><rect x="892" y="840" width="24" height="5" fill="#52cc00"/><rect x="916" y="840" width="112" height="5" fill="#61cc00"/><rect x="1028" y="840" width="12" height="5" fill="#52cc00"/><rect x="1040" y="840" width="116" height="5" fill="#61cc00"/><rect x="1156" y="840" width="24" height="5" fill="#52cc00"/><rect x="1180" y="840" width="70" height="5" fill="#61cc00"/><rect x="1250" y="840" width="20" height="5" fill="#52cc00"/><rect x="1270" y="840" width="134" height="5" fill="#61cc00"/><rect x="1404" y="840" width="16" height="5" fill="#52cc00"/><rect x="1420" y="840" width="24" height="5" fill="#61cc00"/><rect x="1444" y="840" width="40" height="5" fill="#52cc00"/><rect x="1484" y="840" width="18" height="5" fill="#61cc00"/><rect x="235" y="845" width="53" height="4" fill="#5a6000"/><rect x="288" y="845" width="42" height="4" fill="#4a6000"/><rect x="330" y="845" width="143" height="4" fill="#5a6000"/><rect x="473" y="845" width="29" height="4" fill="#4a6000"/><rect x="502" y="845" width="177" height="4" fill="#5a6000"/><rect x="679" y="845" width="28" height="4" fill="#4a6000"/><rect x="707" y="845" width="83" height="4" fill="#5a6000"/><rect x="790" y="845" width="20" height="4" fill="#4a6000"/><rect x="810" y="845" width="82" height="4" fill="#5a6000"/><rect x="892" y="845" width="24" height="4" fill="#4a6000"/><rect x="916" y="845" width="112" height="4" fill="#5a6000"/><rect x="1028" y="845" width="12" height="4" fill="#4a6000"/><rect x="1040" y="845" width="116" height="4" fill="#5a6000"/><rect x="1156" y="845" width="24" height="4" fill="#4a6000"/><rect x="1180" y="845" width="70" height="4" fill="#5a6000"/><rect x="1250" y="845" width="20" height="4" fill="#4a6000"/><rect x="1270" y="845" width="134" height="4" fill="#5a6000"/><rect x="1404" y="845" width="16" height="4" fill="#4a6000"/><rect x="1420" y="845" width="24" height="4" fill="#5a6000"/><rect x="1444" y="845" width="40" height="4" fill="#4a6000"/><rect x="1484" y="845" width="18" height="4" fill="#5a6000"/><rect x="235" y="849" width="53" height="3" fill="#608c00"/><rect x="288" y="849" width="42" height="3" fill="#518c00"/><rect x="330" y="849" width="143" height="3" fill="#608c00"/><rect x="473" y="849" width="29" height="3" fill="#518c00"/><rect x="502" y="849" width="177" height="3" fill="#608c00"/><rect x="679" y="849" width="28" height="3" fill="#518c00"/><rect x="707" y="849" width="83" height="3" fill="#608c00"/><rect x="790" y="849" width="20" height="3" fill="#518c00"/><rect x="810" y="849" width="82" height="3" fill="#608c00"/><rect x="892" y="849" width="24" height="3" fill="#518c00"/><rect x="916" y="849" width="112" height="3" fill="#608c00"/><rect x="1028" y="849" width="12" height="3" fill="#518c00"/><rect x="1040" y="849" width="116" height="3" fill="#608c00"/><rect x="1156" y="849" width="24" height="3" fill="#518c00"/><rect x="1180" y="849" width="70" height="3" fill="#608c00"/><rect x="1250" y="849" width="20" height="3" fill="#518c00"/><rect x="1270" y="849" width="134" height="3" fill="#608c00"/><rect x="1404" y="849" width="16" height="3" fill="#518c00"/><rect x="1420" y="849" width="24" height="3" fill="#608c00"/><rect x="1444" y="849" width="40" height="3" fill="#518c00"/><rect x="1484" y="849" width="18" height="3" fill="#608c00"/><rect x="235" y="852" width="53" height="5" fill="#5a6000"/><rect x="288" y="852" width="42" height="5" fill="#4a6000"/><rect x="330" y="852" width="143" height="5" fill="#5a6000"/><rect x="473" y="852" width="29" height="5" fill="#4a6000"/><rect x="502" y="852" width="177" height="5" fill="#5a6000"/><rect x="679" y="852" width="28" height="5" fill="#4a6000"/><rect x="707" y="852" width="83" height="5" fill="#5a6000"/><rect x="790" y="852" width="20" height="5" fill="#4a6000"/><rect x="810" y="852" width="82" height="5" fill="#5a6000"/><rect x="892" y="852" width="24" height="5" fill="#4a6000"/><rect x="916" y="852" width="112" height="5" fill="#5a6000"/><rect x="1028" y="852" width="12" height="5" fill="#4a6000"/><rect x="1040" y="852" width="116" height="5" fill="#5a6000"/><rect x="1156" y="852" width="24" height="5" fill="#4a6000"/><rect x="1180" y="852" width="70" height="5" fill="#5a6000"/><rect x="1250" y="852" width="20" height="5" fill="#4a6000"/><rect x="1270" y="852" width="134" height="5" fill="#5a6000"/><rect x="1404" y="852" width="16" height="5" fill="#4a6000"/><rect x="1420" y="852" width="24" height="5" fill="#5a6000"/><rect x="1444" y="852" width="40" height="5" fill="#4a6000"/><rect x="1484" y="852" width="18" height="5" fill="#5a6000"/><rect x="235" y="857" width="53" height="5" fill="#67cc00"/><rect x="288" y="857" width="42" height="5" fill="#57cc00"/><rect x="330" y="857" width="143" height="5" fill="#67cc00"/><rect x="473" y="857" width="29" height="5" fill="#57cc00"/><rect x="502" y="857" width="177" height="5" fill="#67cc00"/><rect x="679" y="857" width="28" height="5" fill="#57cc00"/><rect x="707" y="857" width="83" height="5" fill="#67cc00"/><rect x="790" y="857" width="20" height="5" fill="#57cc00"/><rect x="810" y="857" width="82" height="5" fill="#67cc00"/><rect x="892" y="857" width="24" height="5" fill="#57cc00"/><rect x="916" y="857" width="112" height="5" fill="#67cc00"/><rect x="1028" y="857" width="12" height="5" fill="#57cc00"/><rect x="1040" y="857" width="116" height="5" fill="#67cc00"/><rect x="1156" y="857" width="24" height="5" fill="#57cc00"/><rect x="1180" y="857" width="70" height="5" fill="#67cc00"/><rect x="1250" y="857" width="20" height="5" fill="#57cc00"/><rect x="1270" y="857" width="134" height="5" fill="#67cc00"/><rect x="1404" y="857" width="16" height="5" fill="#57cc00"/><rect x="1420" y="857" width="24" height="5" fill="#67cc00"/><rect x="1444" y="857" width="40" height="5" fill="#57cc00"/><rect x="1484" y="857" width="18" height="5" fill="#67cc00"/><rect x="235" y="862" width="53" height="8" fill="#5c6000"/><rect x="288" y="862" width="42" height="8" fill="#4d6000"/><rect x="330" y="862" width="143" height="8" fill="#5c6000"/><rect x="473" y="862" width="29" height="8" fill="#4d6000"/><rect x="502" y="862" width="177" height="8" fill="#5c6000"/><rect x="679" y="862" width="28" height="8" fill="#4d6000"/><rect x="707" y="862" width="83" height="8" fill="#5c6000"/><rect x="790" y="862" width="20" height="8" fill="#4d6000"/><rect x="810" y="862" width="82" height="8" fill="#5c6000"/><rect x="892" y="862" width="24" height="8" fill="#4d6000"/><rect x="916" y="862" width="112" height="8" fill="#5c6000"/><rect x="1028" y="862" width="12" height="8" fill="#4d6000"/><rect x="1040" y="862" width="116" height="8" fill="#5c6000"/><rect x="1156" y="862" width="24" height="8" fill="#4d6000"/><rect x="1180" y="862" width="70" height="8" fill="#5c6000"/><rect x="1250" y="862" width="20" height="8" fill="#4d6000"/><rect x="1270" y="862" width="134" height="8" fill="#5c6000"/><rect x="1404" y="862" width="16" height="8" fill="#4d6000"/><rect x="1420" y="862" width="24" height="8" fill="#5c6000"/><rect x="1444" y="862" width="40" height="8" fill="#4d6000"/><rect x="1484" y="862" width="18" height="8" fill="#5c6000"/><rect x="235" y="870" width="53" height="8" fill="#64a600"/><rect x="288" y="870" width="42" height="8" fill="#55a600"/><rect x="330" y="870" width="143" height="8" fill="#64a600"/><rect x="473" y="870" width="29" height="8" fill="#55a600"/><rect x="502" y="870" width="177" height="8" fill="#64a600"/><rect x="679" y="870" width="28" height="8" fill="#55a600"/><rect x="707" y="870" width="83" height="8" fill="#64a600"/><rect x="790" y="870" width="20" height="8" fill="#55a600"/><rect x="810" y="870" width="82" height="8" fill="#64a600"/><rect x="892" y="870" width="24" height="8" fill="#55a600"/><rect x="916" y="870" width="112" height="8" fill="#64a600"/><rect x="1028" y="870" width="12" height="8" fill="#55a600"/><rect x="1040" y="870" width="116" height="8" fill="#64a600"/><rect x="1156" y="870" width="24" height="8" fill="#55a600"/><rect x="1180" y="870" width="70" height="8" fill="#64a600"/><rect x="1250" y="870" width="20" height="8" fill="#55a600"/><rect x="1270" y="870" width="134" height="8" fill="#64a600"/><rect x="1404" y="870" width="16" height="8" fill="#55a600"/><rect x="1420" y="870" width="24" height="8" fill="#64a600"/><rect x="1444" y="870" width="40" height="8" fill="#55a600"/><rect x="1484" y="870" width="18" height="8" fill="#64a600"/><rect x="235" y="878" width="53" height="4" fill="#5c6000"/><rect x="288" y="878" width="42" height="4" fill="#4d6000"/><rect x="330" y="878" width="143" height="4" fill="#5c6000"/><rect x="473" y="878" width="29" height="4" fill="#4d6000"/><rect x="502" y="878" width="177" height="4" fill="#5c6000"/><rect x="679" y="878" width="28" height="4" fill="#4d6000"/><rect x="707" y="878" width="83" height="4" fill="#5c6000"/><rect x="790" y="878" width="20" height="4" fill="#4d6000"/><rect x="810" y="878" width="82" height="4" fill="#5c6000"/><rect x="892" y="878" width="24" height="4" fill="#4d6000"/><rect x="916" y="878" width="112" height="4" fill="#5c6000"/><rect x="1028" y="878" width="12" height="4" fill="#4d6000"/><rect x="1040" y="878" width="116" height="4" fill="#5c6000"/><rect x="1156" y="878" width="24" height="4" fill="#4d6000"/><rect x="1180" y="878" width="70" height="4" fill="#5c6000"/><rect x="1250" y="878" width="20" height="4" fill="#4d6000"/><rect x="1270" y="878" width="134" height="4" fill="#5c6000"/><rect x="1404" y="878" width="16" height="4" fill="#4d6000"/><rect x="1420" y="878" width="24" height="4" fill="#5c6000"/><rect x="1444" y="878" width="40" height="4" fill="#4d6000"/><rect x="1484" y="878" width="18" height="4" fill="#5c6000"/><rect x="235" y="882" width="53" height="4" fill="#618c00"/><rect x="288" y="882" width="42" height="4" fill="#528c00"/><rect x="330" y="882" width="143" height="4" fill="#618c00"/><rect x="473" y="882" width="29" height="4" fill="#528c00"/><rect x="502" y="882" width="177" height="4" fill="#618c00"/><rect x="679" y="882" width="28" height="4" fill="#528c00"/><rect x="707" y="882" width="83" height="4" fill="#618c00"/><rect x="790" y="882" width="20" height="4" fill="#528c00"/><rect x="810" y="882" width="82" height="4" fill="#618c00"/><rect x="892" y="882" width="24" height="4" fill="#528c00"/><rect x="916" y="882" width="112" height="4" fill="#618c00"/><rect x="1028" y="882" width="12" height="4" fill="#528c00"/><rect x="1040" y="882" width="116" height="4" fill="#618c00"/><rect x="1156" y="882" width="24" height="4" fill="#528c00"/><rect x="1180" y="882" width="70" height="4" fill="#618c00"/><rect x="1250" y="882" width="20" height="4" fill="#528c00"/><rect x="1270" y="882" width="134" height="4" fill="#618c00"/><rect x="1404" y="882" width="16" height="4" fill="#528c00"/><rect x="1420" y="882" width="24" height="4" fill="#618c00"/><rect x="1444" y="882" width="40" height="4" fill="#528c00"/><rect x="1484" y="882" width="18" height="4" fill="#618c00"/><rect x="235" y="886" width="53" height="5" fill="#5c6000"/><rect x="288" y="886" width="42" height="5" fill="#4d6000"/><rect x="330" y="886" width="143" height="5" fill="#5c6000"/><rect x="473" y="886" width="29" height="5" fill="#4d6000"/><rect x="502" y="886" width="177" height="5" fill="#5c6000"/><rect x="679" y="886" width="28" height="5" fill="#4d6000"/><rect x="707" y="886" width="83" height="5" fill="#5c6000"/><rect x="790" y="886" width="20" height="5" fill="#4d6000"/><rect x="810" y="886" width="82" height="5" fill="#5c6000"/><rect x="892" y="886" width="24" height="5" fill="#4d6000"/><rect x="916" y="886" width="112" height="5" fill="#5c6000"/><rect x="1028" y="886" width="12" height="5" fill="#4d6000"/><rect x="1040" y="886" width="116" height="5" fill="#5c6000"/><rect x="1156" y="886" width="24" height="5" fill="#4d6000"/><rect x="1180" y="886" width="70" height="5" fill="#5c6000"/><rect x="1250" y="886" width="20" height="5" fill="#4d6000"/><rect x="1270" y="886" width="134" height="5" fill="#5c6000"/><rect x="1404" y="886" width="16" height="5" fill="#4d6000"/><rect x="1420" y="886" width="24" height="5" fill="#5c6000"/><rect x="1444" y="886" width="40" height="5" fill="#4d6000"/><rect x="1484" y="886" width="18" height="5" fill="#5c6000"/><path d="M490,326Q690,416 890,326" stroke="#000" stroke-opacity="0.36" stroke-width="7" fill="none"/><path d="M490,344Q690,434 890,344" stroke="#000" stroke-opacity="0.36" stroke-width="7" fill="none"/><path d="M490,362Q690,452 890,362" stroke="#000" stroke-opacity="0.36" stroke-width="7" fill="none"/><path d="M490,380Q690,470 890,380" stroke="#000" stroke-opacity="0.36" stroke-width="7" fill="none"/><path d="M490,398Q690,488 890,398" stroke="#000" stroke-opacity="0.36" stroke-width="7" fill="none"/><path d="M1130,322Q1290,412 1450,322" stroke="#000" stroke-opacity="0.36" stroke-width="7" fill="none"/><path d="M1130,340Q1290,430 1450,340" stroke="#000" stroke-opacity="0.36" stroke-width="7" fill="none"/><path d="M1130,358Q1290,448 1450,358" stroke="#000" stroke-opacity="0.36" stroke-width="7" fill="none"/><path d="M1130,376Q1290,466 1450,376" stroke="#000" stroke-opacity="0.36" stroke-width="7" fill="none"/><path d="M1130,394Q1290,484 1450,394" stroke="#000" stroke-opacity="0.36" stroke-width="7" fill="none"/><path d="M490,262Q690,322 890,262" stroke="#000" stroke-opacity="0.3" stroke-width="7" fill="none"/><path d="M490,244Q690,304 890,244" stroke="#000" stroke-opacity="0.3" stroke-width="7" fill="none"/><path d="M490,226Q690,286 890,226" stroke="#000" stroke-opacity="0.3" stroke-width="7" fill="none"/><path d="M490,208Q690,268 890,208" stroke="#000" stroke-opacity="0.3" stroke-width="7" fill="none"/><path d="M490,190Q690,250 890,190" stroke="#000" stroke-opacity="0.3" stroke-width="7" fill="none"/><path d="M490,172Q690,232 890,172" stroke="#000" stroke-opacity="0.3" stroke-width="7" fill="none"/><path d="M490,154Q690,214 890,154" stroke="#000" stroke-opacity="0.3" stroke-width="7" fill="none"/><path d="M1130,262Q1290,322 1450,262" stroke="#000" stroke-opacity="0.3" stroke-width="7" fill="none"/><path d="M1130,244Q1290,304 1450,244" stroke="#000" stroke-opacity="0.3" stroke-width="7" fill="none"/><path d="M1130,226Q1290,286 1450,226" stroke="#000" stroke-opacity="0.3" stroke-width="7" fill="none"/><path d="M1130,208Q1290,268 1450,208" stroke="#000" stroke-opacity="0.3" stroke-width="7" fill="none"/><path d="M1130,190Q1290,250 1450,190" stroke="#000" stroke-opacity="0.3" stroke-width="7" fill="none"/><path d="M1130,172Q1290,232 1450,172" stroke="#000" stroke-opacity="0.3" stroke-width="7" fill="none"/><path d="M1130,154Q1290,214 1450,154" stroke="#000" stroke-opacity="0.3" stroke-width="7" fill="none"/><path d="M1160,520Q1300,590 1440,520" stroke="#000" stroke-opacity="0.3" stroke-width="7" fill="none"/><path d="M1160,538Q1300,608 1440,538" stroke="#000" stroke-opacity="0.3" stroke-width="7" fill="none"/><path d="M1160,556Q1300,626 1440,556" stroke="#000" stroke-opacity="0.3" stroke-width="7" fill="none"/><path d="M1160,628Q1300,698 1440,628" stroke="#000" stroke-opacity="0.3" stroke-width="7" fill="none"/><path d="M1160,646Q1300,716 1440,646" stroke="#000" stroke-opacity="0.3" stroke-width="7" fill="none"/><path d="M520,530Q690,600 860,530" stroke="#000" stroke-opacity="0.25" stroke-width="7" fill="none"/><path d="M520,548Q690,618 860,548" stroke="#000" stroke-opacity="0.25" stroke-width="7" fill="none"/><path d="M520,566Q690,636 860,566" stroke="#000" stroke-opacity="0.25" stroke-width="7" fill="none"/><path d="M520,632Q690,702 860,632" stroke="#000" stroke-opacity="0.25" stroke-width="7" fill="none"/><path d="M520,650Q690,720 860,650" stroke="#000" stroke-opacity="0.25" stroke-width="7" fill="none"/><rect x="286" y="467" width="2" height="31" fill-opacity="0.44"/><rect x="1399" y="473" width="3" height="31" fill-opacity="0.41"/><rect x="1395" y="466" width="3" height="26" fill-opacity="0.47"/><rect x="248" y="473" width="1" height="22" fill-opacity="0.48"/><rect x="1024" y="472" width="1" height="30" fill-opacity="0.51"/><rect x="884" y="463" width="2" height="30" fill-opacity="0.42"/><rect x="1490" y="466" width="2" height="37" fill-opacity="0.41"/><rect x="887" y="463" width="1" height="30" fill-opacity="0.48"/><rect x="982" y="471" width="1" height="23" fill-opacity="0.46"/><rect x="501" y="467" width="1" height="33" fill-opacity="0.54"/><rect x="1408" y="461" width="2" height="37" fill-opacity="0.65"/><rect x="1056" y="462" width="2" height="37" fill-opacity="0.67"/><rect x="879" y="475" width="1" height="18" fill-opacity="0.67"/><rect x="527" y="464" width="2" height="34" fill-opacity="0.62"/><rect x="1432" y="472" width="2" height="22" fill-opacity="0.47"/><rect x="1278" y="462" width="2" height="42" fill-opacity="0.66"/><rect x="712" y="462" width="2" height="31" fill-opacity="0.51"/><rect x="1318" y="460" width="2" height="42" fill-opacity="0.60"/><rect x="781" y="463" width="2" height="33" fill-opacity="0.53"/><rect x="914" y="463" width="1" height="33" fill-opacity="0.65"/><rect x="642" y="471" width="1" height="29" fill-opacity="0.56"/><rect x="1321" y="470" width="1" height="20" fill-opacity="0.41"/><rect x="864" y="461" width="1" height="37" fill-opacity="0.66"/><rect x="410" y="462" width="2" height="39" fill-opacity="0.44"/><rect x="1404" y="473" width="2" height="26" fill-opacity="0.68"/><rect x="646" y="472" width="2" height="22" fill-opacity="0.53"/><rect x="482" y="467" width="1" height="36" fill-opacity="0.50"/><rect x="706" y="467" width="3" height="38" fill-opacity="0.42"/><rect x="703" y="461" width="1" height="34" fill-opacity="0.42"/><rect x="1253" y="464" width="3" height="26" fill-opacity="0.47"/><rect x="1158" y="463" width="1" height="29" fill-opacity="0.51"/><rect x="321" y="461" width="1" height="32" fill-opacity="0.62"/><rect x="458" y="466" width="1" height="33" fill-opacity="0.56"/><rect x="686" y="467" width="2" height="36" fill-opacity="0.53"/><rect x="1362" y="461" width="1" height="44" fill-opacity="0.69"/><rect x="719" y="473" width="1" height="17" fill-opacity="0.54"/><rect x="355" y="472" width="1" height="33" fill-opacity="0.70"/><rect x="1258" y="475" width="2" height="26" fill-opacity="0.46"/><rect x="315" y="461" width="3" height="34" fill-opacity="0.42"/><rect x="1264" y="465" width="3" height="39" fill-opacity="0.69"/><rect x="673" y="462" width="3" height="36" fill-opacity="0.52"/><rect x="1401" y="461" width="1" height="42" fill-opacity="0.53"/><rect x="1305" y="468" width="2" height="31" fill-opacity="0.60"/><rect x="907" y="469" width="1" height="22" fill-opacity="0.49"/><rect x="383" y="474" width="1" height="28" fill-opacity="0.42"/><rect x="890" y="462" width="2" height="36" fill-opacity="0.51"/><rect x="1413" y="460" width="3" height="36" fill-opacity="0.68"/><rect x="685" y="463" width="1" height="38" fill-opacity="0.48"/><rect x="937" y="468" width="1" height="22" fill-opacity="0.48"/><rect x="339" y="473" width="1" height="24" fill-opacity="0.41"/><rect x="709" y="465" width="2" height="26" fill-opacity="0.57"/><rect x="285" y="464" width="1" height="40" fill-opacity="0.65"/><rect x="538" y="464" width="2" height="40" fill-opacity="0.49"/><rect x="316" y="466" width="2" height="32" fill-opacity="0.60"/><rect x="1420" y="464" width="3" height="34" fill-opacity="0.66"/><rect x="597" y="460" width="2" height="40" fill-opacity="0.62"/><rect x="1188" y="468" width="1" height="32" fill-opacity="0.64"/><rect x="332" y="467" width="2" height="32" fill-opacity="0.64"/><rect x="896" y="460" width="1" height="39" fill-opacity="0.52"/><rect x="512" y="471" width="2" height="22" fill-opacity="0.60"/><rect x="913" y="463" width="1" height="34" fill-opacity="0.45"/><rect x="778" y="463" width="1" height="29" fill-opacity="0.50"/><rect x="1128" y="463" width="3" height="30" fill-opacity="0.67"/><rect x="323" y="460" width="2" height="39" fill-opacity="0.51"/><rect x="1038" y="469" width="1" height="27" fill-opacity="0.60"/><rect x="917" y="466" width="1" height="26" fill-opacity="0.60"/><rect x="708" y="469" width="3" height="24" fill-opacity="0.56"/><rect x="895" y="470" width="2" height="21" fill-opacity="0.53"/><rect x="1281" y="465" width="2" height="38" fill-opacity="0.49"/><rect x="921" y="467" width="1" height="29" fill-opacity="0.47"/><rect x="280" y="590" width="1" height="33" fill-opacity="0.54"/><rect x="1413" y="587" width="1" height="23" fill-opacity="0.52"/><rect x="335" y="588" width="1" height="30" fill-opacity="0.45"/><rect x="1295" y="576" width="2" height="42" fill-opacity="0.68"/><rect x="698" y="585" width="3" height="26" fill-opacity="0.58"/><rect x="1268" y="589" width="2" height="31" fill-opacity="0.62"/><rect x="897" y="591" width="2" height="19" fill-opacity="0.59"/><rect x="508" y="582" width="2" height="35" fill-opacity="0.50"/><rect x="400" y="579" width="1" height="39" fill-opacity="0.51"/><rect x="784" y="588" width="2" height="27" fill-opacity="0.56"/><rect x="806" y="575" width="2" height="38" fill-opacity="0.54"/><rect x="846" y="588" width="2" height="30" fill-opacity="0.55"/><rect x="1241" y="585" width="2" height="28" fill-opacity="0.62"/><rect x="496" y="575" width="3" height="38" fill-opacity="0.58"/><rect x="406" y="579" width="2" height="32" fill-opacity="0.45"/><rect x="1031" y="585" width="2" height="30" fill-opacity="0.63"/><rect x="1162" y="590" width="1" height="35" fill-opacity="0.62"/><rect x="1032" y="576" width="1" height="49" fill-opacity="0.68"/><rect x="317" y="582" width="1" height="39" fill-opacity="0.54"/><rect x="809" y="586" width="2" height="34" fill-opacity="0.58"/><rect x="469" y="584" width="1" height="38" fill-opacity="0.57"/><rect x="1414" y="587" width="2" height="32" fill-opacity="0.42"/><rect x="732" y="584" width="1" height="38" fill-opacity="0.64"/><rect x="319" y="588" width="2" height="26" fill-opacity="0.42"/><rect x="260" y="590" width="2" height="32" fill-opacity="0.53"/><rect x="1249" y="580" width="2" height="29" fill-opacity="0.69"/><rect x="1424" y="588" width="2" height="29" fill-opacity="0.50"/><rect x="480" y="582" width="2" height="29" fill-opacity="0.57"/><rect x="923" y="590" width="1" height="25" fill-opacity="0.45"/><rect x="903" y="583" width="2" height="42" fill-opacity="0.55"/><rect x="806" y="582" width="2" height="28" fill-opacity="0.59"/><rect x="283" y="582" width="2" height="31" fill-opacity="0.61"/><rect x="1457" y="591" width="2" height="23" fill-opacity="0.53"/><rect x="912" y="589" width="2" height="28" fill-opacity="0.49"/><rect x="800" y="580" width="1" height="39" fill-opacity="0.46"/><rect x="1482" y="584" width="3" height="38" fill-opacity="0.65"/><rect x="1029" y="575" width="2" height="46" fill-opacity="0.48"/><rect x="1368" y="579" width="2" height="31" fill-opacity="0.43"/><rect x="912" y="589" width="2" height="26" fill-opacity="0.46"/><rect x="1247" y="587" width="1" height="23" fill-opacity="0.42"/><rect x="344" y="579" width="1" height="37" fill-opacity="0.43"/><rect x="1420" y="582" width="3" height="27" fill-opacity="0.51"/><rect x="843" y="588" width="3" height="28" fill-opacity="0.57"/><rect x="511" y="581" width="1" height="36" fill-opacity="0.60"/><rect x="704" y="580" width="1" height="45" fill-opacity="0.52"/><rect x="1197" y="576" width="2" height="42" fill-opacity="0.49"/><rect x="1244" y="583" width="1" height="36" fill-opacity="0.53"/><rect x="540" y="579" width="2" height="44" fill-opacity="0.42"/><rect x="1453" y="584" width="3" height="27" fill-opacity="0.44"/><rect x="1059" y="591" width="2" height="19" fill-opacity="0.53"/><rect x="1119" y="583" width="2" height="42" fill-opacity="0.43"/><rect x="1413" y="575" width="3" height="42" fill-opacity="0.57"/><rect x="593" y="591" width="2" height="20" fill-opacity="0.67"/><rect x="1461" y="577" width="2" height="33" fill-opacity="0.50"/><rect x="473" y="588" width="2" height="22" fill-opacity="0.49"/><rect x="1361" y="714" width="1" height="29" fill-opacity="0.49"/><rect x="1178" y="714" width="1" height="18" fill-opacity="0.42"/><rect x="1255" y="701" width="2" height="38" fill-opacity="0.48"/><rect x="910" y="703" width="2" height="42" fill-opacity="0.69"/><rect x="725" y="709" width="1" height="36" fill-opacity="0.57"/><rect x="492" y="704" width="1" height="26" fill-opacity="0.68"/><rect x="908" y="715" width="2" height="23" fill-opacity="0.54"/><rect x="818" y="704" width="3" height="39" fill-opacity="0.48"/><rect x="1084" y="708" width="2" height="37" fill-opacity="0.48"/><rect x="1471" y="704" width="2" height="27" fill-opacity="0.56"/><rect x="1428" y="714" width="2" height="21" fill-opacity="0.66"/><rect x="724" y="712" width="3" height="26" fill-opacity="0.66"/><rect x="1048" y="712" width="2" height="29" fill-opacity="0.55"/><rect x="1415" y="714" width="1" height="28" fill-opacity="0.56"/><rect x="695" y="702" width="1" height="28" fill-opacity="0.63"/><rect x="1478" y="702" width="2" height="33" fill-opacity="0.66"/><rect x="1013" y="715" width="2" height="29" fill-opacity="0.59"/><rect x="896" y="713" width="1" height="29" fill-opacity="0.63"/><rect x="440" y="705" width="2" height="31" fill-opacity="0.67"/><rect x="296" y="711" width="2" height="21" fill-opacity="0.44"/><rect x="1394" y="705" width="1" height="35" fill-opacity="0.42"/><rect x="728" y="704" width="2" height="34" fill-opacity="0.54"/><rect x="924" y="714" width="1" height="22" fill-opacity="0.60"/><rect x="1262" y="709" width="3" height="23" fill-opacity="0.61"/><rect x="894" y="715" width="2" height="27" fill-opacity="0.47"/><rect x="1412" y="709" width="2" height="36" fill-opacity="0.69"/><rect x="797" y="701" width="1" height="29" fill-opacity="0.65"/><rect x="706" y="711" width="3" height="27" fill-opacity="0.59"/><rect x="515" y="701" width="1" height="35" fill-opacity="0.64"/><rect x="1026" y="709" width="1" height="26" fill-opacity="0.62"/><rect x="703" y="708" width="2" height="32" fill-opacity="0.48"/><rect x="1221" y="710" width="2" height="32" fill-opacity="0.54"/><rect x="805" y="711" width="3" height="32" fill-opacity="0.64"/><rect x="1401" y="711" width="2" height="26" fill-opacity="0.58"/><rect x="995" y="707" width="1" height="23" fill-opacity="0.41"/><rect x="1384" y="707" width="2" height="36" fill-opacity="0.59"/><rect x="923" y="703" width="2" height="38" fill-opacity="0.41"/><rect x="1247" y="707" width="1" height="34" fill-opacity="0.52"/><rect x="1420" y="704" width="3" height="28" fill-opacity="0.60"/><rect x="1495" y="708" width="2" height="36" fill-opacity="0.61"/><rect x="1255" y="703" width="2" height="31" fill-opacity="0.56"/><rect x="969" y="712" width="1" height="25" fill-opacity="0.46"/><rect x="1245" y="700" width="1" height="44" fill-opacity="0.64"/><rect x="705" y="702" width="1" height="37" fill-opacity="0.58"/><rect x="712" y="704" width="2" height="41" fill-opacity="0.48"/><rect x="501" y="786" width="3" height="24" fill-opacity="0.43"/><rect x="504" y="787" width="1" height="22" fill-opacity="0.58"/><rect x="885" y="788" width="1" height="16" fill-opacity="0.43"/><rect x="1263" y="791" width="3" height="20" fill-opacity="0.54"/><rect x="1436" y="786" width="3" height="19" fill-opacity="0.59"/><rect x="1265" y="792" width="2" height="19" fill-opacity="0.55"/><rect x="385" y="787" width="1" height="16" fill-opacity="0.44"/><rect x="1474" y="790" width="3" height="17" fill-opacity="0.51"/><rect x="838" y="790" width="2" height="13" fill-opacity="0.53"/><rect x="469" y="785" width="3" height="21" fill-opacity="0.54"/><rect x="1047" y="788" width="2" height="23" fill-opacity="0.49"/><rect x="905" y="792" width="1" height="13" fill-opacity="0.42"/><rect x="425" y="783" width="2" height="24" fill-opacity="0.64"/><rect x="1436" y="790" width="3" height="17" fill-opacity="0.60"/><rect x="1149" y="791" width="2" height="17" fill-opacity="0.51"/><rect x="670" y="792" width="1" height="13" fill-opacity="0.47"/><rect x="1417" y="786" width="1" height="17" fill-opacity="0.47"/><rect x="1429" y="791" width="1" height="11" fill-opacity="0.65"/><rect x="686" y="787" width="2" height="20" fill-opacity="0.40"/><rect x="1394" y="783" width="2" height="27" fill-opacity="0.62"/><rect x="422" y="785" width="3" height="21" fill-opacity="0.53"/><rect x="1037" y="791" width="2" height="12" fill-opacity="0.43"/><rect x="717" y="782" width="3" height="20" fill-opacity="0.42"/><rect x="1177" y="789" width="3" height="17" fill-opacity="0.48"/><rect x="468" y="788" width="2" height="23" fill-opacity="0.48"/><rect x="1231" y="792" width="3" height="16" fill-opacity="0.41"/><rect x="1437" y="785" width="1" height="23" fill-opacity="0.68"/><rect x="758" y="787" width="2" height="24" fill-opacity="0.40"/><rect x="594" y="788" width="1" height="16" fill-opacity="0.61"/><rect x="960" y="788" width="1" height="24" fill-opacity="0.53"/><rect x="483" y="788" width="3" height="15" fill-opacity="0.52"/><rect x="827" y="788" width="1" height="24" fill-opacity="0.69"/><rect x="1463" y="783" width="2" height="23" fill-opacity="0.65"/><rect x="1459" y="783" width="3" height="23" fill-opacity="0.66"/><rect x="688" y="784" width="2" height="27" fill-opacity="0.55"/><rect x="1406" y="787" width="2" height="15" fill-opacity="0.64"/><rect x="685" y="784" width="1" height="19" fill-opacity="0.45"/><rect x="389" y="792" width="1" height="13" fill-opacity="0.54"/><rect x="1421" y="792" width="2" height="11" fill-opacity="0.59"/><rect x="896" y="784" width="2" height="21" fill-opacity="0.42"/><rect x="899" y="782" width="3" height="25" fill-opacity="0.55"/><rect x="1242" y="787" width="1" height="21" fill-opacity="0.42"/><rect x="419" y="791" width="3" height="13" fill-opacity="0.52"/><rect x="319" y="791" width="2" height="11" fill-opacity="0.46"/><rect x="1261" y="782" width="1" height="23" fill-opacity="0.43"/><rect x="938" y="212" width="1" height="77" fill-opacity="0.41"/><rect x="1134" y="213" width="3" height="48" fill-opacity="0.45"/><rect x="906" y="201" width="2" height="61" fill-opacity="0.42"/><rect x="920" y="201" width="1" height="93" fill-opacity="0.57"/><rect x="924" y="189" width="3" height="90" fill-opacity="0.42"/><rect x="951" y="205" width="2" height="87" fill-opacity="0.58"/><rect x="869" y="204" width="3" height="75" fill-opacity="0.64"/><rect x="1313" y="207" width="1" height="61" fill-opacity="0.51"/><rect x="682" y="211" width="2" height="77" fill-opacity="0.47"/><rect x="481" y="212" width="1" height="54" fill-opacity="0.65"/><rect x="312" y="219" width="2" height="73" fill-opacity="0.58"/><rect x="713" y="190" width="3" height="82" fill-opacity="0.41"/><rect x="808" y="198" width="3" height="74" fill-opacity="0.47"/><rect x="1252" y="216" width="2" height="56" fill-opacity="0.54"/><rect x="1178" y="206" width="3" height="84" fill-opacity="0.65"/><rect x="518" y="183" width="2" height="87" fill-opacity="0.66"/><rect x="445" y="187" width="3" height="95" fill-opacity="0.43"/><rect x="1272" y="207" width="1" height="88" fill-opacity="0.68"/><rect x="1262" y="206" width="1" height="91" fill-opacity="0.52"/><rect x="1151" y="194" width="2" height="105" fill-opacity="0.50"/><rect x="1027" y="182" width="1" height="100" fill-opacity="0.68"/><rect x="717" y="208" width="2" height="53" fill-opacity="0.40"/><rect x="895" y="215" width="1" height="47" fill-opacity="0.56"/><rect x="897" y="187" width="2" height="110" fill-opacity="0.47"/><rect x="1171" y="187" width="1" height="82" fill-opacity="0.58"/><rect x="1430" y="189" width="1" height="93" fill-opacity="0.53"/><rect x="727" y="206" width="3" height="83" fill-opacity="0.60"/><rect x="1022" y="214" width="3" height="54" fill-opacity="0.64"/><rect x="276" y="210" width="2" height="88" fill-opacity="0.59"/><rect x="754" y="202" width="1" height="94" fill-opacity="0.50"/><rect x="447" y="201" width="3" height="91" fill-opacity="0.41"/><rect x="593" y="210" width="2" height="50" fill-opacity="0.45"/><rect x="1242" y="192" width="2" height="106" fill-opacity="0.64"/><rect x="881" y="212" width="2" height="63" fill-opacity="0.70"/><rect x="753" y="192" width="1" height="90" fill-opacity="0.51"/><rect x="914" y="319" width="2" height="21" fill-opacity="0.53"/><rect x="1264" y="320" width="2" height="18" fill-opacity="0.61"/><rect x="1411" y="324" width="1" height="20" fill-opacity="0.53"/><rect x="604" y="322" width="3" height="18" fill-opacity="0.43"/><rect x="901" y="327" width="2" height="12" fill-opacity="0.45"/><rect x="1242" y="327" width="2" height="12" fill-opacity="0.48"/><rect x="352" y="324" width="1" height="16" fill-opacity="0.55"/><rect x="562" y="320" width="1" height="16" fill-opacity="0.60"/><rect x="673" y="323" width="1" height="17" fill-opacity="0.51"/><rect x="1474" y="325" width="1" height="15" fill-opacity="0.51"/><rect x="1410" y="326" width="1" height="14" fill-opacity="0.52"/><rect x="746" y="318" width="1" height="25" fill-opacity="0.55"/><rect x="1401" y="322" width="2" height="16" fill-opacity="0.46"/><rect x="1240" y="319" width="1" height="24" fill-opacity="0.66"/><rect x="1245" y="323" width="2" height="21" fill-opacity="0.56"/><rect x="892" y="323" width="1" height="14" fill-opacity="0.47"/><rect x="519" y="325" width="1" height="20" fill-opacity="0.51"/><rect x="1192" y="320" width="3" height="16" fill-opacity="0.67"/><rect x="1176" y="324" width="3" height="15" fill-opacity="0.65"/><rect x="1022" y="325" width="2" height="12" fill-opacity="0.50"/><rect x="1364" y="320" width="3" height="23" fill-opacity="0.53"/><rect x="348" y="326" width="1" height="17" fill-opacity="0.49"/><rect x="802" y="322" width="3" height="22" fill-opacity="0.48"/><rect x="1363" y="320" width="2" height="21" fill-opacity="0.58"/><rect x="706" y="320" width="3" height="23" fill-opacity="0.60"/><rect x="1474" y="327" width="2" height="18" fill-opacity="0.65"/><rect x="338" y="322" width="3" height="20" fill-opacity="0.63"/><rect x="309" y="322" width="3" height="19" fill-opacity="0.54"/><rect x="1066" y="325" width="2" height="19" fill-opacity="0.61"/><rect x="1176" y="321" width="2" height="19" fill-opacity="0.58"/><rect x="1040" y="124" width="2" height="45" fill-opacity="0.55"/><rect x="809" y="128" width="1" height="38" fill-opacity="0.47"/><rect x="906" y="133" width="3" height="40" fill-opacity="0.69"/><rect x="905" y="130" width="3" height="44" fill-opacity="0.63"/><rect x="1423" y="129" width="2" height="36" fill-opacity="0.41"/><rect x="1270" y="127" width="2" height="47" fill-opacity="0.58"/><rect x="913" y="140" width="3" height="25" fill-opacity="0.49"/><rect x="490" y="128" width="1" height="41" fill-opacity="0.63"/><rect x="1149" y="137" width="3" height="37" fill-opacity="0.51"/><rect x="1178" y="137" width="2" height="35" fill-opacity="0.65"/><rect x="1486" y="124" width="1" height="53" fill-opacity="0.52"/><rect x="929" y="131" width="3" height="45" fill-opacity="0.46"/><rect x="1259" y="121" width="1" height="58" fill-opacity="0.44"/><rect x="1273" y="124" width="2" height="37" fill-opacity="0.67"/><rect x="1454" y="132" width="1" height="29" fill-opacity="0.62"/><rect x="1050" y="379" width="3" height="50" fill-opacity="0.61"/><rect x="301" y="352" width="2" height="82" fill-opacity="0.58"/><rect x="289" y="375" width="3" height="69" fill-opacity="0.69"/><rect x="1419" y="359" width="3" height="98" fill-opacity="0.58"/><rect x="1483" y="354" width="2" height="91" fill-opacity="0.41"/><rect x="460" y="346" width="1" height="86" fill-opacity="0.49"/><rect x="806" y="375" width="3" height="82" fill-opacity="0.61"/><rect x="1383" y="375" width="2" height="52" fill-opacity="0.51"/><rect x="1176" y="366" width="3" height="60" fill-opacity="0.51"/><rect x="776" y="375" width="3" height="73" fill-opacity="0.69"/><rect x="896" y="363" width="2" height="84" fill-opacity="0.61"/><rect x="1262" y="362" width="3" height="80" fill-opacity="0.44"/><rect x="1012" y="367" width="2" height="84" fill-opacity="0.49"/><rect x="485" y="361" width="2" height="69" fill-opacity="0.46"/><rect x="790" y="362" width="3" height="90" fill-opacity="0.43"/><rect x="725" y="348" width="1" height="79" fill-opacity="0.47"/><rect x="489" y="375" width="2" height="79" fill-opacity="0.60"/><rect x="1404" y="375" width="2" height="55" fill-opacity="0.60"/><rect x="823" y="363" width="2" height="94" fill-opacity="0.67"/><rect x="1448" y="347" width="3" height="102" fill-opacity="0.53"/><rect x="309" y="376" width="2" height="73" fill-opacity="0.68"/><rect x="827" y="345" width="1" height="96" fill-opacity="0.57"/><rect x="1036" y="379" width="2" height="48" fill-opacity="0.55"/><rect x="1267" y="362" width="2" height="86" fill-opacity="0.64"/><rect x="1256" y="345" width="1" height="94" fill-opacity="0.64"/><rect x="630" y="662" width="1" height="25" fill-opacity="0.55"/><rect x="474" y="665" width="1" height="25" fill-opacity="0.68"/><rect x="1161" y="658" width="2" height="32" fill-opacity="0.49"/><rect x="258" y="661" width="2" height="32" fill-opacity="0.42"/><rect x="892" y="666" width="2" height="25" fill-opacity="0.61"/><rect x="839" y="657" width="2" height="36" fill-opacity="0.69"/><rect x="1278" y="663" width="2" height="22" fill-opacity="0.63"/><rect x="682" y="652" width="1" height="32" fill-opacity="0.53"/><rect x="394" y="653" width="3" height="46" fill-opacity="0.65"/><rect x="649" y="654" width="3" height="41" fill-opacity="0.50"/><rect x="473" y="665" width="1" height="33" fill-opacity="0.67"/><rect x="307" y="666" width="1" height="21" fill-opacity="0.54"/><rect x="1259" y="662" width="1" height="30" fill-opacity="0.64"/><rect x="1419" y="651" width="1" height="36" fill-opacity="0.50"/><rect x="337" y="665" width="1" height="34" fill-opacity="0.49"/><path d="M1156,317L1168,306L1174,298L1180,298L1186,306L1196,317Z" fill-opacity="0.85"/><path d="M1172,321L1258,339" stroke="#000" stroke-width="4" stroke-opacity="0.35" fill="none"/><path d="M540,318L560,324L600,322L640,318" stroke="#000" stroke-width="4" stroke-opacity="0.5" fill="none"/></g>
<path d="M170.5,43.5H1567.5V911.5H170.5ZM170.5,46.5h15M1567.5,46.5h-15M170.5,64.5h15M1567.5,64.5h-15M170.5,81.5h15M1567.5,81.5h-15M170.5,98.5h15M1567.5,98.5h-15M170.5,115.5h15M1567.5,115.5h-15M170.5,132.5h15M1567.5,132.5h-15M170.5,150.5h29M1567.5,150.5h-29M170.5,167.5h15M1567.5,167.5h-15M170.5,184.5h15M1567.5,184.5h-15M170.5,201.5h15M1567.5,201.5h-15M170.5,218.5h15M1567.5,218.5h-15M170.5,236.5h15M1567.5,236.5h-15M170.5,253.5h15M1567.5,253.5h-15M170.5,270.5h15M1567.5,270.5h-15M170.5,287.5h15M1567.5,287.5h-15M170.5,304.5h15M1567.5,304.5h-15M170.5,322.5h29M1567.5,322.5h-29M170.5,339.5h15M1567.5,339.5h-15M170.5,356.5h15M1567.5,356.5h-15M170.5,373.5h15M1567.5,373.5h-15M170.5,390.5h15M1567.5,390.5h-15M170.5,408.5h15M1567.5,408.5h-15M170.5,425.5h15M1567.5,425.5h-15M170.5,442.5h15M1567.5,442.5h-15M170.5,459.5h15M1567.5,459.5h-15M170.5,476.5h15M1567.5,476.5h-15M170.5,494.5h29M1567.5,494.5h-29M170.5,511.5h15M1567.5,511.5h-15M170.5,528.5h15M1567.5,528.5h-15M170.5,545.5h15M1567.5,545.5h-15M170.5,562.5h15M1567.5,562.5h-15M170.5,580.5h15M1567.5,580.5h-15M170.5,597.5h15M1567.5,597.5h-15M170.5,614.5h15M1567.5,614.5h-15M170.5,631.5h15M1567.5,631.5h-15M170.5,648.5h15M1567.5,648.5h-15M170.5,666.5h29M1567.5,666.5h-29M170.5,683.5h15M1567.5,683.5h-15M170.5,700.5h15M1567.5,700.5h-15M170.5,717.5h15M1567.5,717.5h-15M170.5,734.5h15M1567.5,734.5h-15M170.5,752.5h15M1567.5,752.5h-15M170.5,769.5h15M1567.5,769.5h-15M170.5,786.5h15M1567.5,786.5h-15M170.5,803.5h15M1567.5,803.5h-15M170.5,820.5h15M1567.5,820.5h-15M170.5,838.5h29M1567.5,838.5h-29M170.5,855.5h15M1567.5,855.5h-15M170.5,872.5h15M1567.5,872.5h-15M170.5,889.5h15M1567.5,889.5h-15M170.5,906.5h15M1567.5,906.5h-15M233.5,43.5v9M233.5,911.5v-9M318.5,43.5v9M318.5,911.5v-9M402.5,43.5v9M402.5,911.5v-9M487.5,43.5v18M487.5,911.5v-18M571.5,43.5v9M571.5,911.5v-9M656.5,43.5v9M656.5,911.5v-9M740.5,43.5v9M740.5,911.5v-9M825.5,43.5v18M825.5,911.5v-18M909.5,43.5v9M909.5,911.5v-9M994.5,43.5v9M994.5,911.5v-9M1078.5,43.5v9M1078.5,911.5v-9M1163.5,43.5v18M1163.5,911.5v-18M1247.5,43.5v9M1247.5,911.5v-9M1332.5,43.5v9M1332.5,911.5v-9M1416.5,43.5v9M1416.5,911.5v-9M1501.5,43.5v18M1501.5,911.5v-18" stroke="#fff" stroke-width="1" fill="none"/>
<text x="302.58" y="31" font-size="34" transform="scale(1.12,1)" letter-spacing="1.42" stroke="#000" stroke-width="0.6">2016</text><text x="0" y="0" font-size="34" transform="translate(429.15,40.63) scale(2.467,1.558)" stroke="#000" stroke-width="1.9">/</text><text x="404.65" y="31" font-size="34" transform="scale(1.12,1)" letter-spacing="-3.22" stroke="#000" stroke-width="0.6">01</text><text x="0" y="0" font-size="34" transform="translate(498.05,40.63) scale(2.530,1.558)" stroke="#000" stroke-width="1.9">/</text><text x="467.15" y="31" font-size="34" transform="scale(1.12,1)" letter-spacing="1.68" stroke="#000" stroke-width="0.6">08</text><text x="573.59" y="31" font-size="34" transform="scale(1.05,1)" letter-spacing="0.77" stroke="#000" stroke-width="0.6">Radio</text><text x="683.99" y="31" font-size="34" transform="scale(1.05,1)" letter-spacing="1.38" stroke="#000" stroke-width="0.6">flux</text><text x="760.19" y="31" font-size="34" transform="scale(1.05,1)" letter-spacing="1.26" stroke="#000" stroke-width="0.6">density,</text><text x="940.34" y="31" font-size="34" transform="scale(1.0091,1)" stroke="#000" stroke-width="0.6">e</text><text x="372.29" y="31" font-size="34" transform="scale(2.6022,1)" stroke="#000" stroke-width="0.6">-</text><text x="1028.58" y="31" font-size="34" transform="scale(0.97,1)" letter-spacing="-0.60" stroke="#000" stroke-width="0.6">CALLISTO</text><text x="1208.92" y="31" font-size="34" transform="scale(0.97,1)" letter-spacing="0.54" stroke="#000" stroke-width="0.6">(PERALEJOS)</text><text x="620.91" y="975" font-size="28.5" transform="scale(1.0,1)" letter-spacing="2.03" stroke="#000" stroke-width="0.6">Start</text><text x="704.16" y="975" font-size="28.5" transform="scale(1.0,1)" letter-spacing="0.42" stroke="#000" stroke-width="0.6">Time</text><text x="711.78" y="975" font-size="28.5" transform="scale(1.1,1)" letter-spacing="1.23" stroke="#000" stroke-width="0.6">(08</text><text x="332.52" y="975" font-size="28.5" transform="scale(2.5007,1)" stroke="#000" stroke-width="0.6">-</text><text x="812.89" y="975" font-size="28.5" transform="scale(1.05,1)" letter-spacing="0.22" stroke="#000" stroke-width="0.6">Jan</text><text x="356.75" y="975" font-size="28.5" transform="scale(2.5295,1)" stroke="#000" stroke-width="0.6">-</text><text x="843.01" y="975" font-size="28.5" transform="scale(1.1,1)" letter-spacing="-0.46" stroke="#000" stroke-width="0.6">16</text><text x="888.65" y="975" font-size="28.5" transform="scale(1.1,1)" letter-spacing="0.38" stroke="#000" stroke-width="0.6">14:44:38)</text><text x="399.70" y="946" font-size="28.5" transform="scale(1.12,1)" letter-spacing="-0.28" stroke="#000" stroke-width="0.6">14:48</text><text x="701.49" y="946" font-size="28.5" transform="scale(1.12,1)" letter-spacing="-0.23" stroke="#000" stroke-width="0.6">14:52</text><text x="1003.28" y="946" font-size="28.5" transform="scale(1.12,1)" letter-spacing="-0.28" stroke="#000" stroke-width="0.6">14:56</text><text x="1305.06" y="946" font-size="28.5" transform="scale(1.12,1)" letter-spacing="-0.31" stroke="#000" stroke-width="0.6">15:00</text><text x="111.89" y="160" font-size="28.5" transform="scale(1.12,1)" letter-spacing="-0.34" stroke="#000" stroke-width="0.6">50</text><text x="111.59" y="332" font-size="28.5" transform="scale(1.12,1)" letter-spacing="-0.03" stroke="#000" stroke-width="0.6">60</text><text x="111.57" y="504" font-size="28.5" transform="scale(1.12,1)" letter-spacing="-0.02" stroke="#000" stroke-width="0.6">70</text><text x="111.80" y="676" font-size="28.5" transform="scale(1.12,1)" letter-spacing="-0.24" stroke="#000" stroke-width="0.6">80</text><text x="111.70" y="848" font-size="28.5" transform="scale(1.12,1)" letter-spacing="-0.14" stroke="#000" stroke-width="0.6">90</text><g transform="translate(101,0) rotate(-90)"><text x="-598.72" y="0" font-size="29.5" transform="scale(1.0,1)" letter-spacing="0.09" stroke="#000" stroke-width="0.6">Frequency</text><text x="-442.93" y="0" font-size="29.5" transform="scale(1.0,1)" letter-spacing="-0.32" stroke="#000" stroke-width="0.6">(MHZ)</text></g>
</svg></body></html>
